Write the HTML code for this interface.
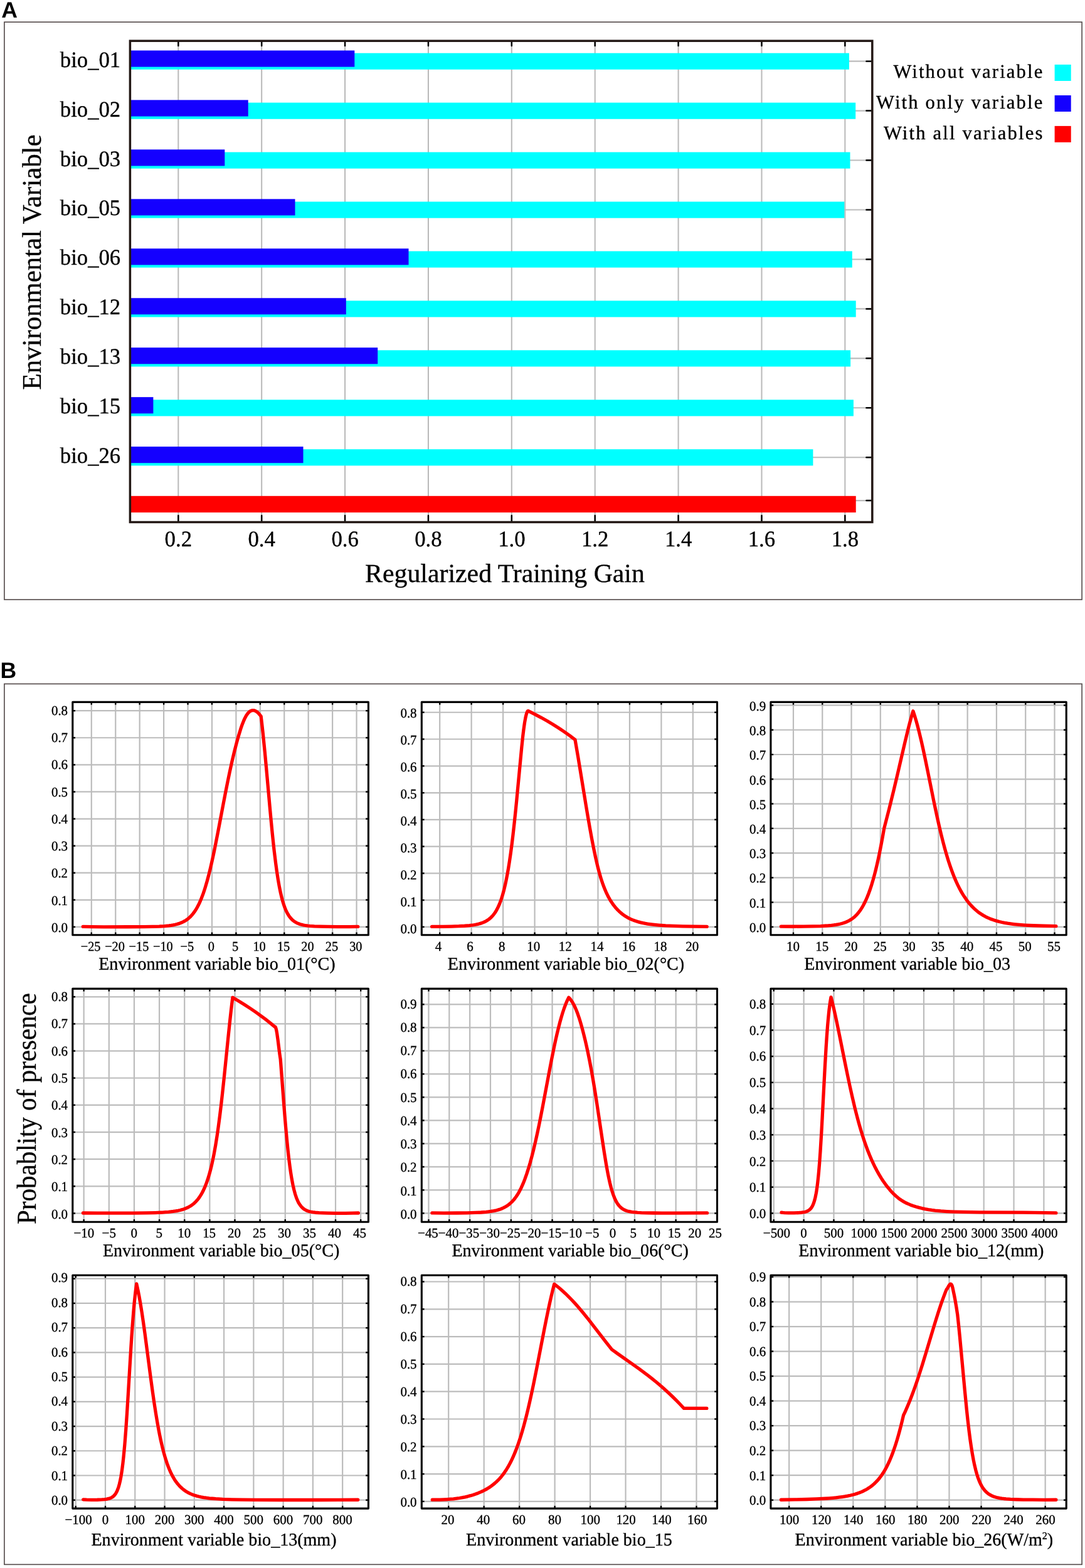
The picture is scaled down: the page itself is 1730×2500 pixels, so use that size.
<!DOCTYPE html>
<html lang="en">
<head>
<meta charset="utf-8">
<title>Figure: Jackknife of regularized training gain and response curves</title>
<style>
html,body{margin:0;padding:0;background:#fff;}
body{width:1730px;height:2500px;overflow:hidden;}
svg{display:block;}
text{font-family:'Liberation Serif', 'DejaVu Serif', serif;fill:#000;text-rendering:geometricPrecision;stroke:#000;stroke-width:0.35px;stroke-linejoin:round;}
text.b{font-family:'Liberation Sans', 'DejaVu Sans', sans-serif;font-weight:bold;stroke:none;}
</style>
</head>
<body>
<svg width="1730" height="2500" viewBox="0 0 1730 2500">
<rect x="0" y="0" width="1730" height="2500" fill="#fff"/>
<text x="2.2" y="28" font-size="35.6" class="b">A</text>
<text x="0.6" y="1081" font-size="35.6" class="b">B</text>
<rect x="6.9" y="35.2" width="1718.2" height="920.8" fill="none" stroke="#514747" stroke-width="1.6"/>
<g id="panelA">
<line x1="284.3" y1="65.2" x2="284.3" y2="832.5" stroke="#bbbbbb" stroke-width="2.1"/>
<line x1="417.18" y1="65.2" x2="417.18" y2="832.5" stroke="#bbbbbb" stroke-width="2.1"/>
<line x1="550.06" y1="65.2" x2="550.06" y2="832.5" stroke="#bbbbbb" stroke-width="2.1"/>
<line x1="682.94" y1="65.2" x2="682.94" y2="832.5" stroke="#bbbbbb" stroke-width="2.1"/>
<line x1="815.82" y1="65.2" x2="815.82" y2="832.5" stroke="#bbbbbb" stroke-width="2.1"/>
<line x1="948.7" y1="65.2" x2="948.7" y2="832.5" stroke="#bbbbbb" stroke-width="2.1"/>
<line x1="1081.58" y1="65.2" x2="1081.58" y2="832.5" stroke="#bbbbbb" stroke-width="2.1"/>
<line x1="1214.46" y1="65.2" x2="1214.46" y2="832.5" stroke="#bbbbbb" stroke-width="2.1"/>
<line x1="1347.34" y1="65.2" x2="1347.34" y2="832.5" stroke="#bbbbbb" stroke-width="2.1"/>
<line x1="207.4" y1="97.65" x2="1390.8" y2="97.65" stroke="#bbbbbb" stroke-width="2.1"/>
<line x1="207.4" y1="176.6" x2="1390.8" y2="176.6" stroke="#bbbbbb" stroke-width="2.1"/>
<line x1="207.4" y1="255.55" x2="1390.8" y2="255.55" stroke="#bbbbbb" stroke-width="2.1"/>
<line x1="207.4" y1="334.5" x2="1390.8" y2="334.5" stroke="#bbbbbb" stroke-width="2.1"/>
<line x1="207.4" y1="413.45" x2="1390.8" y2="413.45" stroke="#bbbbbb" stroke-width="2.1"/>
<line x1="207.4" y1="492.4" x2="1390.8" y2="492.4" stroke="#bbbbbb" stroke-width="2.1"/>
<line x1="207.4" y1="571.35" x2="1390.8" y2="571.35" stroke="#bbbbbb" stroke-width="2.1"/>
<line x1="207.4" y1="650.3" x2="1390.8" y2="650.3" stroke="#bbbbbb" stroke-width="2.1"/>
<line x1="207.4" y1="729.25" x2="1390.8" y2="729.25" stroke="#bbbbbb" stroke-width="2.1"/>
<line x1="207.4" y1="798.1" x2="1390.8" y2="798.1" stroke="#bbbbbb" stroke-width="2.1"/>
<rect x="207.4" y="84.7" width="1146.5" height="26.1" fill="#00ffff"/>
<rect x="207.4" y="80.5" width="357.9" height="26.1" fill="#1400ff"/>
<text transform="translate(192.2 106.6) scale(0.977 1)" font-size="35.5" class="s" text-anchor="end">bio_01</text>
<rect x="207.4" y="163.65" width="1156.8" height="26.1" fill="#00ffff"/>
<rect x="207.4" y="159.45" width="188.3" height="26.1" fill="#1400ff"/>
<text transform="translate(192.2 185.55) scale(0.977 1)" font-size="35.5" class="s" text-anchor="end">bio_02</text>
<rect x="207.4" y="242.6" width="1148.1" height="26.1" fill="#00ffff"/>
<rect x="207.4" y="238.4" width="150.9" height="26.1" fill="#1400ff"/>
<text transform="translate(192.2 264.5) scale(0.977 1)" font-size="35.5" class="s" text-anchor="end">bio_03</text>
<rect x="207.4" y="321.55" width="1138.9" height="26.1" fill="#00ffff"/>
<rect x="207.4" y="317.35" width="263.1" height="26.1" fill="#1400ff"/>
<text transform="translate(192.2 343.45) scale(0.977 1)" font-size="35.5" class="s" text-anchor="end">bio_05</text>
<rect x="207.4" y="400.5" width="1151.4" height="26.1" fill="#00ffff"/>
<rect x="207.4" y="396.3" width="444.1" height="26.1" fill="#1400ff"/>
<text transform="translate(192.2 422.4) scale(0.977 1)" font-size="35.5" class="s" text-anchor="end">bio_06</text>
<rect x="207.4" y="479.45" width="1157.3" height="26.1" fill="#00ffff"/>
<rect x="207.4" y="475.25" width="344.4" height="26.1" fill="#1400ff"/>
<text transform="translate(192.2 501.35) scale(0.977 1)" font-size="35.5" class="s" text-anchor="end">bio_12</text>
<rect x="207.4" y="558.4" width="1148.7" height="26.1" fill="#00ffff"/>
<rect x="207.4" y="554.2" width="394.8" height="26.1" fill="#1400ff"/>
<text transform="translate(192.2 580.3) scale(0.977 1)" font-size="35.5" class="s" text-anchor="end">bio_13</text>
<rect x="207.4" y="637.35" width="1153.5" height="26.1" fill="#00ffff"/>
<rect x="207.4" y="633.15" width="37" height="26.1" fill="#1400ff"/>
<text transform="translate(192.2 659.25) scale(0.977 1)" font-size="35.5" class="s" text-anchor="end">bio_15</text>
<rect x="207.4" y="716.3" width="1089" height="26.1" fill="#00ffff"/>
<rect x="207.4" y="712.1" width="276.1" height="26.1" fill="#1400ff"/>
<text transform="translate(192.2 738.2) scale(0.977 1)" font-size="35.5" class="s" text-anchor="end">bio_26</text>
<rect x="207.4" y="790.8" width="1157.3" height="26.3" fill="#ff0000"/>
<line x1="284.3" y1="65.2" x2="284.3" y2="72.95" stroke="#000" stroke-width="2.5" stroke-linecap="round"/>
<line x1="284.3" y1="832.5" x2="284.3" y2="821.95" stroke="#000" stroke-width="2.5" stroke-linecap="round"/>
<text transform="translate(284.3 871) scale(0.977 1)" font-size="35.5" class="s" text-anchor="middle">0.2</text>
<line x1="417.18" y1="65.2" x2="417.18" y2="72.95" stroke="#000" stroke-width="2.5" stroke-linecap="round"/>
<line x1="417.18" y1="832.5" x2="417.18" y2="821.95" stroke="#000" stroke-width="2.5" stroke-linecap="round"/>
<text transform="translate(417.18 871) scale(0.977 1)" font-size="35.5" class="s" text-anchor="middle">0.4</text>
<line x1="550.06" y1="65.2" x2="550.06" y2="72.95" stroke="#000" stroke-width="2.5" stroke-linecap="round"/>
<line x1="550.06" y1="832.5" x2="550.06" y2="821.95" stroke="#000" stroke-width="2.5" stroke-linecap="round"/>
<text transform="translate(550.06 871) scale(0.977 1)" font-size="35.5" class="s" text-anchor="middle">0.6</text>
<line x1="682.94" y1="65.2" x2="682.94" y2="72.95" stroke="#000" stroke-width="2.5" stroke-linecap="round"/>
<line x1="682.94" y1="832.5" x2="682.94" y2="821.95" stroke="#000" stroke-width="2.5" stroke-linecap="round"/>
<text transform="translate(682.94 871) scale(0.977 1)" font-size="35.5" class="s" text-anchor="middle">0.8</text>
<line x1="815.82" y1="65.2" x2="815.82" y2="72.95" stroke="#000" stroke-width="2.5" stroke-linecap="round"/>
<line x1="815.82" y1="832.5" x2="815.82" y2="821.95" stroke="#000" stroke-width="2.5" stroke-linecap="round"/>
<text transform="translate(815.82 871) scale(0.977 1)" font-size="35.5" class="s" text-anchor="middle">1.0</text>
<line x1="948.7" y1="65.2" x2="948.7" y2="72.95" stroke="#000" stroke-width="2.5" stroke-linecap="round"/>
<line x1="948.7" y1="832.5" x2="948.7" y2="821.95" stroke="#000" stroke-width="2.5" stroke-linecap="round"/>
<text transform="translate(948.7 871) scale(0.977 1)" font-size="35.5" class="s" text-anchor="middle">1.2</text>
<line x1="1081.58" y1="65.2" x2="1081.58" y2="72.95" stroke="#000" stroke-width="2.5" stroke-linecap="round"/>
<line x1="1081.58" y1="832.5" x2="1081.58" y2="821.95" stroke="#000" stroke-width="2.5" stroke-linecap="round"/>
<text transform="translate(1081.58 871) scale(0.977 1)" font-size="35.5" class="s" text-anchor="middle">1.4</text>
<line x1="1214.46" y1="65.2" x2="1214.46" y2="72.95" stroke="#000" stroke-width="2.5" stroke-linecap="round"/>
<line x1="1214.46" y1="832.5" x2="1214.46" y2="821.95" stroke="#000" stroke-width="2.5" stroke-linecap="round"/>
<text transform="translate(1214.46 871) scale(0.977 1)" font-size="35.5" class="s" text-anchor="middle">1.6</text>
<line x1="1347.34" y1="65.2" x2="1347.34" y2="72.95" stroke="#000" stroke-width="2.5" stroke-linecap="round"/>
<line x1="1347.34" y1="832.5" x2="1347.34" y2="821.95" stroke="#000" stroke-width="2.5" stroke-linecap="round"/>
<text transform="translate(1347.34 871) scale(0.977 1)" font-size="35.5" class="s" text-anchor="middle">1.8</text>
<line x1="1390.8" y1="97.65" x2="1381.45" y2="97.65" stroke="#000" stroke-width="2.5" stroke-linecap="round"/>
<line x1="1390.8" y1="176.6" x2="1381.45" y2="176.6" stroke="#000" stroke-width="2.5" stroke-linecap="round"/>
<line x1="1390.8" y1="255.55" x2="1381.45" y2="255.55" stroke="#000" stroke-width="2.5" stroke-linecap="round"/>
<line x1="1390.8" y1="334.5" x2="1381.45" y2="334.5" stroke="#000" stroke-width="2.5" stroke-linecap="round"/>
<line x1="1390.8" y1="413.45" x2="1381.45" y2="413.45" stroke="#000" stroke-width="2.5" stroke-linecap="round"/>
<line x1="1390.8" y1="492.4" x2="1381.45" y2="492.4" stroke="#000" stroke-width="2.5" stroke-linecap="round"/>
<line x1="1390.8" y1="571.35" x2="1381.45" y2="571.35" stroke="#000" stroke-width="2.5" stroke-linecap="round"/>
<line x1="1390.8" y1="650.3" x2="1381.45" y2="650.3" stroke="#000" stroke-width="2.5" stroke-linecap="round"/>
<line x1="1390.8" y1="729.25" x2="1381.45" y2="729.25" stroke="#000" stroke-width="2.5" stroke-linecap="round"/>
<line x1="1390.8" y1="798.1" x2="1381.45" y2="798.1" stroke="#000" stroke-width="2.5" stroke-linecap="round"/>
<rect x="207.4" y="65.2" width="1183.4" height="767.3" fill="none" stroke="#231815" stroke-width="3.5"/>
<text x="805" y="928" font-size="41.8" class="s" text-anchor="middle">Regularized Training Gain</text>
<text transform="translate(65 418) rotate(-90)" font-size="42.8" class="s" text-anchor="middle">Environmental Variable</text>
<text x="1664.5" y="123.9" font-size="30.6" class="s" text-anchor="end" letter-spacing="2.18">Without variable</text>
<rect x="1681.6" y="103" width="26.1" height="26" fill="#00ffff"/>
<text x="1664.5" y="172.8" font-size="30.6" class="s" text-anchor="end" letter-spacing="2.18">With only variable</text>
<rect x="1681.6" y="152" width="26.1" height="26" fill="#1400ff"/>
<text x="1664.5" y="221.7" font-size="30.6" class="s" text-anchor="end" letter-spacing="2.18">With all variables</text>
<rect x="1681.6" y="200.9" width="26.1" height="26" fill="#ff0000"/>
</g>
<rect x="6.9" y="1090.4" width="1718.2" height="1404" fill="none" stroke="#514747" stroke-width="1.6"/>
<text transform="translate(56.6 1767.6) rotate(-90) scale(0.94 1)" font-size="43.6" class="s" text-anchor="middle">Probablity of presence</text>
<g id="p1">
<line x1="145.81" y1="1119.4" x2="145.81" y2="1490.75" stroke="#bcbcbc" stroke-width="2.2"/>
<line x1="184.24" y1="1119.4" x2="184.24" y2="1490.75" stroke="#bcbcbc" stroke-width="2.2"/>
<line x1="222.67" y1="1119.4" x2="222.67" y2="1490.75" stroke="#bcbcbc" stroke-width="2.2"/>
<line x1="261.1" y1="1119.4" x2="261.1" y2="1490.75" stroke="#bcbcbc" stroke-width="2.2"/>
<line x1="299.53" y1="1119.4" x2="299.53" y2="1490.75" stroke="#bcbcbc" stroke-width="2.2"/>
<line x1="337.96" y1="1119.4" x2="337.96" y2="1490.75" stroke="#bcbcbc" stroke-width="2.2"/>
<line x1="376.39" y1="1119.4" x2="376.39" y2="1490.75" stroke="#bcbcbc" stroke-width="2.2"/>
<line x1="414.82" y1="1119.4" x2="414.82" y2="1490.75" stroke="#bcbcbc" stroke-width="2.2"/>
<line x1="453.25" y1="1119.4" x2="453.25" y2="1490.75" stroke="#bcbcbc" stroke-width="2.2"/>
<line x1="491.68" y1="1119.4" x2="491.68" y2="1490.75" stroke="#bcbcbc" stroke-width="2.2"/>
<line x1="530.11" y1="1119.4" x2="530.11" y2="1490.75" stroke="#bcbcbc" stroke-width="2.2"/>
<line x1="568.54" y1="1119.4" x2="568.54" y2="1490.75" stroke="#bcbcbc" stroke-width="2.2"/>
<line x1="115.8" y1="1477.9" x2="587.4" y2="1477.9" stroke="#bcbcbc" stroke-width="2.2"/>
<line x1="115.8" y1="1434.81" x2="587.4" y2="1434.81" stroke="#bcbcbc" stroke-width="2.2"/>
<line x1="115.8" y1="1391.72" x2="587.4" y2="1391.72" stroke="#bcbcbc" stroke-width="2.2"/>
<line x1="115.8" y1="1348.63" x2="587.4" y2="1348.63" stroke="#bcbcbc" stroke-width="2.2"/>
<line x1="115.8" y1="1305.54" x2="587.4" y2="1305.54" stroke="#bcbcbc" stroke-width="2.2"/>
<line x1="115.8" y1="1262.45" x2="587.4" y2="1262.45" stroke="#bcbcbc" stroke-width="2.2"/>
<line x1="115.8" y1="1219.36" x2="587.4" y2="1219.36" stroke="#bcbcbc" stroke-width="2.2"/>
<line x1="115.8" y1="1176.27" x2="587.4" y2="1176.27" stroke="#bcbcbc" stroke-width="2.2"/>
<line x1="115.8" y1="1133.18" x2="587.4" y2="1133.18" stroke="#bcbcbc" stroke-width="2.2"/>
<path d="M132.3 1477.38 L145.53 1477.66 L165.98 1477.78 L203.27 1477.77 L229.73 1477.62 L242.96 1477.4 L253.78 1477.04 L262.2 1476.54 L269.42 1475.84 L273.03 1475.35 L276.04 1474.85 L279.04 1474.24 L282.05 1473.51 L285.06 1472.63 L287.46 1471.79 L289.87 1470.82 L292.27 1469.69 L294.68 1468.38 L296.48 1467.26 L298.89 1465.57 L300.69 1464.13 L302.5 1462.53 L304.3 1460.75 L306.11 1458.78 L307.91 1456.6 L309.71 1454.18 L311.52 1451.52 L313.32 1448.59 L314.53 1446.47 L316.33 1443.05 L318.13 1439.31 L319.94 1435.23 L321.14 1432.31 L322.94 1427.63 L324.15 1424.3 L325.95 1418.98 L327.15 1415.21 L330.16 1405.02 L333.17 1393.71 L335.57 1383.89 L337.98 1373.41 L340.39 1362.34 L342.79 1350.74 L347.6 1326.33 L356.02 1281.99 L359.63 1263.29 L363.24 1245.21 L366.25 1230.79 L369.85 1214.41 L373.46 1199.14 L377.07 1185.06 L378.88 1178.48 L380.68 1172.19 L383.69 1162.46 L385.49 1157.17 L386.69 1153.89 L388.5 1149.38 L389.7 1146.66 L390.9 1144.18 L392.11 1141.94 L393.31 1139.96 L394.51 1138.23 L395.71 1136.76 L396.32 1136.11 L397.52 1134.99 L398.72 1134.1 L399.32 1133.74 L400.53 1133.16 L401.73 1132.79 L402.33 1132.68 L403.53 1132.6 L404.74 1132.71 L405.34 1132.83 L406.54 1133.22 L407.74 1133.78 L409.55 1134.94 L410.75 1135.91 L412.55 1137.66 L414.36 1139.74 L416.16 1142.12 L417.37 1152.13 L419.18 1168.35 L422.2 1198.27 L424.61 1224.21 L430.65 1291.46 L432.46 1310.85 L434.27 1329.31 L436.08 1346.62 L437.29 1357.44 L439.71 1377.19 L441.52 1390.33 L443.33 1402.04 L445.14 1412.39 L446.35 1418.58 L447.55 1424.23 L449.36 1431.78 L450.57 1436.23 L451.78 1440.28 L452.99 1443.93 L454.19 1447.24 L455.4 1450.22 L456.61 1452.91 L457.82 1455.33 L459.02 1457.51 L460.23 1459.47 L461.44 1461.24 L462.64 1462.83 L464.46 1464.92 L465.66 1466.14 L467.47 1467.74 L469.28 1469.11 L471.1 1470.28 L472.91 1471.28 L474.72 1472.13 L476.53 1472.87 L478.94 1473.69 L480.75 1474.2 L483.17 1474.78 L485.58 1475.25 L488 1475.65 L491.02 1476.04 L494.03 1476.35 L501.28 1476.87 L509.73 1477.21 L521.8 1477.46 L538.1 1477.58 L556.82 1477.55 L570.7 1477.38" fill="none" stroke="#ff0000" stroke-width="5.3" stroke-linecap="round" stroke-linejoin="round"/>
<line x1="145.81" y1="1119.4" x2="145.81" y2="1123.65" stroke="#000" stroke-width="2.4"/>
<line x1="145.81" y1="1490.75" x2="145.81" y2="1486.5" stroke="#000" stroke-width="2.4"/>
<text transform="translate(144.61 1516) scale(0.94 1)" font-size="21.6" class="s" text-anchor="middle">−25</text>
<line x1="184.24" y1="1119.4" x2="184.24" y2="1123.65" stroke="#000" stroke-width="2.4"/>
<line x1="184.24" y1="1490.75" x2="184.24" y2="1486.5" stroke="#000" stroke-width="2.4"/>
<text transform="translate(183.04 1516) scale(0.94 1)" font-size="21.6" class="s" text-anchor="middle">−20</text>
<line x1="222.67" y1="1119.4" x2="222.67" y2="1123.65" stroke="#000" stroke-width="2.4"/>
<line x1="222.67" y1="1490.75" x2="222.67" y2="1486.5" stroke="#000" stroke-width="2.4"/>
<text transform="translate(221.47 1516) scale(0.94 1)" font-size="21.6" class="s" text-anchor="middle">−15</text>
<line x1="261.1" y1="1119.4" x2="261.1" y2="1123.65" stroke="#000" stroke-width="2.4"/>
<line x1="261.1" y1="1490.75" x2="261.1" y2="1486.5" stroke="#000" stroke-width="2.4"/>
<text transform="translate(259.9 1516) scale(0.94 1)" font-size="21.6" class="s" text-anchor="middle">−10</text>
<line x1="299.53" y1="1119.4" x2="299.53" y2="1123.65" stroke="#000" stroke-width="2.4"/>
<line x1="299.53" y1="1490.75" x2="299.53" y2="1486.5" stroke="#000" stroke-width="2.4"/>
<text transform="translate(298.33 1516) scale(0.94 1)" font-size="21.6" class="s" text-anchor="middle">−5</text>
<line x1="337.96" y1="1119.4" x2="337.96" y2="1123.65" stroke="#000" stroke-width="2.4"/>
<line x1="337.96" y1="1490.75" x2="337.96" y2="1486.5" stroke="#000" stroke-width="2.4"/>
<text transform="translate(336.76 1516) scale(0.94 1)" font-size="21.6" class="s" text-anchor="middle">0</text>
<line x1="376.39" y1="1119.4" x2="376.39" y2="1123.65" stroke="#000" stroke-width="2.4"/>
<line x1="376.39" y1="1490.75" x2="376.39" y2="1486.5" stroke="#000" stroke-width="2.4"/>
<text transform="translate(375.19 1516) scale(0.94 1)" font-size="21.6" class="s" text-anchor="middle">5</text>
<line x1="414.82" y1="1119.4" x2="414.82" y2="1123.65" stroke="#000" stroke-width="2.4"/>
<line x1="414.82" y1="1490.75" x2="414.82" y2="1486.5" stroke="#000" stroke-width="2.4"/>
<text transform="translate(413.62 1516) scale(0.94 1)" font-size="21.6" class="s" text-anchor="middle">10</text>
<line x1="453.25" y1="1119.4" x2="453.25" y2="1123.65" stroke="#000" stroke-width="2.4"/>
<line x1="453.25" y1="1490.75" x2="453.25" y2="1486.5" stroke="#000" stroke-width="2.4"/>
<text transform="translate(452.05 1516) scale(0.94 1)" font-size="21.6" class="s" text-anchor="middle">15</text>
<line x1="491.68" y1="1119.4" x2="491.68" y2="1123.65" stroke="#000" stroke-width="2.4"/>
<line x1="491.68" y1="1490.75" x2="491.68" y2="1486.5" stroke="#000" stroke-width="2.4"/>
<text transform="translate(490.48 1516) scale(0.94 1)" font-size="21.6" class="s" text-anchor="middle">20</text>
<line x1="530.11" y1="1119.4" x2="530.11" y2="1123.65" stroke="#000" stroke-width="2.4"/>
<line x1="530.11" y1="1490.75" x2="530.11" y2="1486.5" stroke="#000" stroke-width="2.4"/>
<text transform="translate(528.91 1516) scale(0.94 1)" font-size="21.6" class="s" text-anchor="middle">25</text>
<line x1="568.54" y1="1119.4" x2="568.54" y2="1123.65" stroke="#000" stroke-width="2.4"/>
<line x1="568.54" y1="1490.75" x2="568.54" y2="1486.5" stroke="#000" stroke-width="2.4"/>
<text transform="translate(567.34 1516) scale(0.94 1)" font-size="21.6" class="s" text-anchor="middle">30</text>
<line x1="115.8" y1="1477.9" x2="120.05" y2="1477.9" stroke="#000" stroke-width="2.4"/>
<line x1="587.4" y1="1477.9" x2="583.15" y2="1477.9" stroke="#000" stroke-width="2.4"/>
<text transform="translate(108.1 1485.8) scale(0.97 1)" font-size="21.6" class="s" text-anchor="end">0.0</text>
<line x1="115.8" y1="1434.81" x2="120.05" y2="1434.81" stroke="#000" stroke-width="2.4"/>
<line x1="587.4" y1="1434.81" x2="583.15" y2="1434.81" stroke="#000" stroke-width="2.4"/>
<text transform="translate(108.1 1442.55) scale(0.97 1)" font-size="21.6" class="s" text-anchor="end">0.1</text>
<line x1="115.8" y1="1391.72" x2="120.05" y2="1391.72" stroke="#000" stroke-width="2.4"/>
<line x1="587.4" y1="1391.72" x2="583.15" y2="1391.72" stroke="#000" stroke-width="2.4"/>
<text transform="translate(108.1 1399.29) scale(0.97 1)" font-size="21.6" class="s" text-anchor="end">0.2</text>
<line x1="115.8" y1="1348.63" x2="120.05" y2="1348.63" stroke="#000" stroke-width="2.4"/>
<line x1="587.4" y1="1348.63" x2="583.15" y2="1348.63" stroke="#000" stroke-width="2.4"/>
<text transform="translate(108.1 1356.04) scale(0.97 1)" font-size="21.6" class="s" text-anchor="end">0.3</text>
<line x1="115.8" y1="1305.54" x2="120.05" y2="1305.54" stroke="#000" stroke-width="2.4"/>
<line x1="587.4" y1="1305.54" x2="583.15" y2="1305.54" stroke="#000" stroke-width="2.4"/>
<text transform="translate(108.1 1312.79) scale(0.97 1)" font-size="21.6" class="s" text-anchor="end">0.4</text>
<line x1="115.8" y1="1262.45" x2="120.05" y2="1262.45" stroke="#000" stroke-width="2.4"/>
<line x1="587.4" y1="1262.45" x2="583.15" y2="1262.45" stroke="#000" stroke-width="2.4"/>
<text transform="translate(108.1 1269.54) scale(0.97 1)" font-size="21.6" class="s" text-anchor="end">0.5</text>
<line x1="115.8" y1="1219.36" x2="120.05" y2="1219.36" stroke="#000" stroke-width="2.4"/>
<line x1="587.4" y1="1219.36" x2="583.15" y2="1219.36" stroke="#000" stroke-width="2.4"/>
<text transform="translate(108.1 1226.29) scale(0.97 1)" font-size="21.6" class="s" text-anchor="end">0.6</text>
<line x1="115.8" y1="1176.27" x2="120.05" y2="1176.27" stroke="#000" stroke-width="2.4"/>
<line x1="587.4" y1="1176.27" x2="583.15" y2="1176.27" stroke="#000" stroke-width="2.4"/>
<text transform="translate(108.1 1183.03) scale(0.97 1)" font-size="21.6" class="s" text-anchor="end">0.7</text>
<line x1="115.8" y1="1133.18" x2="120.05" y2="1133.18" stroke="#000" stroke-width="2.4"/>
<line x1="587.4" y1="1133.18" x2="583.15" y2="1133.18" stroke="#000" stroke-width="2.4"/>
<text transform="translate(108.1 1139.78) scale(0.97 1)" font-size="21.6" class="s" text-anchor="end">0.8</text>
<rect x="115.8" y="1119.4" width="471.6" height="371.35" fill="none" stroke="#000" stroke-width="3.1" stroke-linejoin="round"/>
<text transform="translate(345.9 1546.3) scale(0.981 1)" font-size="28.6" class="s" text-anchor="middle">Environment variable bio_01(°C)</text>
</g>
<g id="p2">
<line x1="701.18" y1="1119.4" x2="701.18" y2="1490.75" stroke="#bcbcbc" stroke-width="2.2"/>
<line x1="751.64" y1="1119.4" x2="751.64" y2="1490.75" stroke="#bcbcbc" stroke-width="2.2"/>
<line x1="802.1" y1="1119.4" x2="802.1" y2="1490.75" stroke="#bcbcbc" stroke-width="2.2"/>
<line x1="852.56" y1="1119.4" x2="852.56" y2="1490.75" stroke="#bcbcbc" stroke-width="2.2"/>
<line x1="903.02" y1="1119.4" x2="903.02" y2="1490.75" stroke="#bcbcbc" stroke-width="2.2"/>
<line x1="953.48" y1="1119.4" x2="953.48" y2="1490.75" stroke="#bcbcbc" stroke-width="2.2"/>
<line x1="1003.94" y1="1119.4" x2="1003.94" y2="1490.75" stroke="#bcbcbc" stroke-width="2.2"/>
<line x1="1054.4" y1="1119.4" x2="1054.4" y2="1490.75" stroke="#bcbcbc" stroke-width="2.2"/>
<line x1="1104.86" y1="1119.4" x2="1104.86" y2="1490.75" stroke="#bcbcbc" stroke-width="2.2"/>
<line x1="672.3" y1="1477.9" x2="1143.5" y2="1477.9" stroke="#bcbcbc" stroke-width="2.2"/>
<line x1="672.3" y1="1435.13" x2="1143.5" y2="1435.13" stroke="#bcbcbc" stroke-width="2.2"/>
<line x1="672.3" y1="1392.36" x2="1143.5" y2="1392.36" stroke="#bcbcbc" stroke-width="2.2"/>
<line x1="672.3" y1="1349.59" x2="1143.5" y2="1349.59" stroke="#bcbcbc" stroke-width="2.2"/>
<line x1="672.3" y1="1306.82" x2="1143.5" y2="1306.82" stroke="#bcbcbc" stroke-width="2.2"/>
<line x1="672.3" y1="1264.05" x2="1143.5" y2="1264.05" stroke="#bcbcbc" stroke-width="2.2"/>
<line x1="672.3" y1="1221.28" x2="1143.5" y2="1221.28" stroke="#bcbcbc" stroke-width="2.2"/>
<line x1="672.3" y1="1178.51" x2="1143.5" y2="1178.51" stroke="#bcbcbc" stroke-width="2.2"/>
<line x1="672.3" y1="1135.74" x2="1143.5" y2="1135.74" stroke="#bcbcbc" stroke-width="2.2"/>
<path d="M688.65 1477.39 L706.16 1477.28 L720.05 1477.06 L731.53 1476.72 L740.58 1476.25 L748.44 1475.59 L752.06 1475.18 L755.08 1474.75 L758.1 1474.24 L761.12 1473.63 L763.53 1473.04 L765.95 1472.36 L768.37 1471.57 L770.78 1470.63 L773.2 1469.53 L775.01 1468.59 L777.42 1467.12 L779.24 1465.86 L781.05 1464.43 L782.86 1462.8 L784.67 1460.96 L786.48 1458.86 L788.3 1456.49 L789.5 1454.73 L791.32 1451.8 L792.52 1449.63 L793.73 1447.27 L794.94 1444.7 L796.15 1441.92 L797.35 1438.89 L798.56 1435.61 L799.77 1432.05 L800.98 1428.2 L802.19 1424.03 L803.39 1419.53 L804.6 1414.67 L805.81 1409.44 L807.02 1403.8 L808.83 1394.55 L810.64 1384.26 L812.45 1372.88 L814.26 1360.35 L816.08 1346.63 L817.89 1331.73 L820.3 1310.1 L822.12 1292.68 L823.93 1274.4 L831.78 1191.64 L833.59 1174.48 L834.8 1164.37 L836.01 1155.53 L836.61 1151.62 L837.82 1144.89 L838.42 1142.07 L839.03 1139.63 L839.63 1137.57 L840.23 1135.9 L840.84 1134.63 L841.44 1133.77 L842.05 1133.33 L852.4 1138.54 L862.75 1144.05 L872.49 1149.55 L881.62 1155 L890.76 1160.77 L899.89 1166.88 L908.42 1172.93 L916.94 1179.32 L921.76 1207.27 L934.41 1284.58 L937.42 1302.52 L940.43 1319.87 L943.44 1336.42 L946.45 1351.98 L949.46 1366.38 L951.87 1376.97 L953.68 1384.32 L954.88 1388.93 L956.09 1393.32 L957.9 1399.47 L959.1 1403.29 L960.91 1408.64 L962.71 1413.57 L964.52 1418.11 L966.33 1422.29 L968.14 1426.15 L969.94 1429.71 L972.35 1434.04 L974.16 1437 L976.57 1440.62 L978.37 1443.11 L980.78 1446.16 L982.59 1448.27 L985 1450.86 L987.41 1453.22 L989.82 1455.37 L992.23 1457.32 L994.64 1459.1 L997.05 1460.73 L1000.06 1462.55 L1002.47 1463.86 L1005.48 1465.33 L1008.49 1466.64 L1011.5 1467.8 L1014.51 1468.83 L1018.13 1469.92 L1021.74 1470.86 L1025.35 1471.69 L1028.97 1472.4 L1032.58 1473.02 L1036.8 1473.65 L1041.01 1474.19 L1045.83 1474.71 L1050.65 1475.14 L1061.49 1475.89 L1074.14 1476.46 L1088.6 1476.88 L1106.06 1477.19 L1127.14 1477.39" fill="none" stroke="#ff0000" stroke-width="5.3" stroke-linecap="round" stroke-linejoin="round"/>
<line x1="701.18" y1="1119.4" x2="701.18" y2="1123.65" stroke="#000" stroke-width="2.4"/>
<line x1="701.18" y1="1490.75" x2="701.18" y2="1486.5" stroke="#000" stroke-width="2.4"/>
<text transform="translate(698.98 1516) scale(0.97 1)" font-size="21.6" class="s" text-anchor="middle">4</text>
<line x1="751.64" y1="1119.4" x2="751.64" y2="1123.65" stroke="#000" stroke-width="2.4"/>
<line x1="751.64" y1="1490.75" x2="751.64" y2="1486.5" stroke="#000" stroke-width="2.4"/>
<text transform="translate(749.56 1516) scale(0.97 1)" font-size="21.6" class="s" text-anchor="middle">6</text>
<line x1="802.1" y1="1119.4" x2="802.1" y2="1123.65" stroke="#000" stroke-width="2.4"/>
<line x1="802.1" y1="1490.75" x2="802.1" y2="1486.5" stroke="#000" stroke-width="2.4"/>
<text transform="translate(800.15 1516) scale(0.97 1)" font-size="21.6" class="s" text-anchor="middle">8</text>
<line x1="852.56" y1="1119.4" x2="852.56" y2="1123.65" stroke="#000" stroke-width="2.4"/>
<line x1="852.56" y1="1490.75" x2="852.56" y2="1486.5" stroke="#000" stroke-width="2.4"/>
<text transform="translate(850.74 1516) scale(0.97 1)" font-size="21.6" class="s" text-anchor="middle">10</text>
<line x1="903.02" y1="1119.4" x2="903.02" y2="1123.65" stroke="#000" stroke-width="2.4"/>
<line x1="903.02" y1="1490.75" x2="903.02" y2="1486.5" stroke="#000" stroke-width="2.4"/>
<text transform="translate(901.32 1516) scale(0.97 1)" font-size="21.6" class="s" text-anchor="middle">12</text>
<line x1="953.48" y1="1119.4" x2="953.48" y2="1123.65" stroke="#000" stroke-width="2.4"/>
<line x1="953.48" y1="1490.75" x2="953.48" y2="1486.5" stroke="#000" stroke-width="2.4"/>
<text transform="translate(951.9 1516) scale(0.97 1)" font-size="21.6" class="s" text-anchor="middle">14</text>
<line x1="1003.94" y1="1119.4" x2="1003.94" y2="1123.65" stroke="#000" stroke-width="2.4"/>
<line x1="1003.94" y1="1490.75" x2="1003.94" y2="1486.5" stroke="#000" stroke-width="2.4"/>
<text transform="translate(1002.49 1516) scale(0.97 1)" font-size="21.6" class="s" text-anchor="middle">16</text>
<line x1="1054.4" y1="1119.4" x2="1054.4" y2="1123.65" stroke="#000" stroke-width="2.4"/>
<line x1="1054.4" y1="1490.75" x2="1054.4" y2="1486.5" stroke="#000" stroke-width="2.4"/>
<text transform="translate(1053.08 1516) scale(0.97 1)" font-size="21.6" class="s" text-anchor="middle">18</text>
<line x1="1104.86" y1="1119.4" x2="1104.86" y2="1123.65" stroke="#000" stroke-width="2.4"/>
<line x1="1104.86" y1="1490.75" x2="1104.86" y2="1486.5" stroke="#000" stroke-width="2.4"/>
<text transform="translate(1103.66 1516) scale(0.97 1)" font-size="21.6" class="s" text-anchor="middle">20</text>
<line x1="672.3" y1="1477.9" x2="676.55" y2="1477.9" stroke="#000" stroke-width="2.4"/>
<line x1="1143.5" y1="1477.9" x2="1139.25" y2="1477.9" stroke="#000" stroke-width="2.4"/>
<text transform="translate(664.6 1487.5) scale(0.97 1)" font-size="21.6" class="s" text-anchor="end">0.0</text>
<line x1="672.3" y1="1435.13" x2="676.55" y2="1435.13" stroke="#000" stroke-width="2.4"/>
<line x1="1143.5" y1="1435.13" x2="1139.25" y2="1435.13" stroke="#000" stroke-width="2.4"/>
<text transform="translate(664.6 1444.61) scale(0.97 1)" font-size="21.6" class="s" text-anchor="end">0.1</text>
<line x1="672.3" y1="1392.36" x2="676.55" y2="1392.36" stroke="#000" stroke-width="2.4"/>
<line x1="1143.5" y1="1392.36" x2="1139.25" y2="1392.36" stroke="#000" stroke-width="2.4"/>
<text transform="translate(664.6 1401.71) scale(0.97 1)" font-size="21.6" class="s" text-anchor="end">0.2</text>
<line x1="672.3" y1="1349.59" x2="676.55" y2="1349.59" stroke="#000" stroke-width="2.4"/>
<line x1="1143.5" y1="1349.59" x2="1139.25" y2="1349.59" stroke="#000" stroke-width="2.4"/>
<text transform="translate(664.6 1358.82) scale(0.97 1)" font-size="21.6" class="s" text-anchor="end">0.3</text>
<line x1="672.3" y1="1306.82" x2="676.55" y2="1306.82" stroke="#000" stroke-width="2.4"/>
<line x1="1143.5" y1="1306.82" x2="1139.25" y2="1306.82" stroke="#000" stroke-width="2.4"/>
<text transform="translate(664.6 1315.92) scale(0.97 1)" font-size="21.6" class="s" text-anchor="end">0.4</text>
<line x1="672.3" y1="1264.05" x2="676.55" y2="1264.05" stroke="#000" stroke-width="2.4"/>
<line x1="1143.5" y1="1264.05" x2="1139.25" y2="1264.05" stroke="#000" stroke-width="2.4"/>
<text transform="translate(664.6 1273.03) scale(0.97 1)" font-size="21.6" class="s" text-anchor="end">0.5</text>
<line x1="672.3" y1="1221.28" x2="676.55" y2="1221.28" stroke="#000" stroke-width="2.4"/>
<line x1="1143.5" y1="1221.28" x2="1139.25" y2="1221.28" stroke="#000" stroke-width="2.4"/>
<text transform="translate(664.6 1230.13) scale(0.97 1)" font-size="21.6" class="s" text-anchor="end">0.6</text>
<line x1="672.3" y1="1178.51" x2="676.55" y2="1178.51" stroke="#000" stroke-width="2.4"/>
<line x1="1143.5" y1="1178.51" x2="1139.25" y2="1178.51" stroke="#000" stroke-width="2.4"/>
<text transform="translate(664.6 1187.23) scale(0.97 1)" font-size="21.6" class="s" text-anchor="end">0.7</text>
<line x1="672.3" y1="1135.74" x2="676.55" y2="1135.74" stroke="#000" stroke-width="2.4"/>
<line x1="1143.5" y1="1135.74" x2="1139.25" y2="1135.74" stroke="#000" stroke-width="2.4"/>
<text transform="translate(664.6 1144.34) scale(0.97 1)" font-size="21.6" class="s" text-anchor="end">0.8</text>
<rect x="672.3" y="1119.4" width="471.2" height="371.35" fill="none" stroke="#000" stroke-width="3.1" stroke-linejoin="round"/>
<text transform="translate(902.5 1546.3) scale(0.981 1)" font-size="28.6" class="s" text-anchor="middle">Environment variable bio_02(°C)</text>
</g>
<g id="p3">
<line x1="1264.96" y1="1119.4" x2="1264.96" y2="1490.75" stroke="#bcbcbc" stroke-width="2.2"/>
<line x1="1311.24" y1="1119.4" x2="1311.24" y2="1490.75" stroke="#bcbcbc" stroke-width="2.2"/>
<line x1="1357.52" y1="1119.4" x2="1357.52" y2="1490.75" stroke="#bcbcbc" stroke-width="2.2"/>
<line x1="1403.8" y1="1119.4" x2="1403.8" y2="1490.75" stroke="#bcbcbc" stroke-width="2.2"/>
<line x1="1450.08" y1="1119.4" x2="1450.08" y2="1490.75" stroke="#bcbcbc" stroke-width="2.2"/>
<line x1="1496.36" y1="1119.4" x2="1496.36" y2="1490.75" stroke="#bcbcbc" stroke-width="2.2"/>
<line x1="1542.64" y1="1119.4" x2="1542.64" y2="1490.75" stroke="#bcbcbc" stroke-width="2.2"/>
<line x1="1588.92" y1="1119.4" x2="1588.92" y2="1490.75" stroke="#bcbcbc" stroke-width="2.2"/>
<line x1="1635.2" y1="1119.4" x2="1635.2" y2="1490.75" stroke="#bcbcbc" stroke-width="2.2"/>
<line x1="1681.48" y1="1119.4" x2="1681.48" y2="1490.75" stroke="#bcbcbc" stroke-width="2.2"/>
<line x1="1228.9" y1="1477.9" x2="1700.2" y2="1477.9" stroke="#bcbcbc" stroke-width="2.2"/>
<line x1="1228.9" y1="1438.63" x2="1700.2" y2="1438.63" stroke="#bcbcbc" stroke-width="2.2"/>
<line x1="1228.9" y1="1399.36" x2="1700.2" y2="1399.36" stroke="#bcbcbc" stroke-width="2.2"/>
<line x1="1228.9" y1="1360.09" x2="1700.2" y2="1360.09" stroke="#bcbcbc" stroke-width="2.2"/>
<line x1="1228.9" y1="1320.82" x2="1700.2" y2="1320.82" stroke="#bcbcbc" stroke-width="2.2"/>
<line x1="1228.9" y1="1281.55" x2="1700.2" y2="1281.55" stroke="#bcbcbc" stroke-width="2.2"/>
<line x1="1228.9" y1="1242.28" x2="1700.2" y2="1242.28" stroke="#bcbcbc" stroke-width="2.2"/>
<line x1="1228.9" y1="1203.01" x2="1700.2" y2="1203.01" stroke="#bcbcbc" stroke-width="2.2"/>
<line x1="1228.9" y1="1163.74" x2="1700.2" y2="1163.74" stroke="#bcbcbc" stroke-width="2.2"/>
<line x1="1228.9" y1="1124.47" x2="1700.2" y2="1124.47" stroke="#bcbcbc" stroke-width="2.2"/>
<path d="M1245.4 1477.2 L1263.52 1477.27 L1281.65 1477.17 L1296.15 1476.94 L1308.23 1476.55 L1317.9 1476.02 L1325.75 1475.33 L1329.38 1474.91 L1333 1474.38 L1336.02 1473.85 L1339.04 1473.22 L1342.06 1472.47 L1344.48 1471.77 L1347.5 1470.73 L1349.92 1469.76 L1352.34 1468.64 L1354.75 1467.36 L1357.17 1465.88 L1358.98 1464.62 L1361.4 1462.74 L1363.21 1461.15 L1365.02 1459.4 L1366.83 1457.46 L1368.65 1455.33 L1370.46 1452.98 L1372.27 1450.41 L1374.08 1447.59 L1375.9 1444.51 L1377.11 1442.3 L1379.52 1437.51 L1381.33 1433.56 L1382.54 1430.75 L1384.96 1424.69 L1387.38 1417.98 L1389.79 1410.6 L1392.21 1402.49 L1394.63 1393.64 L1396.44 1386.48 L1398.25 1378.88 L1400.06 1370.84 L1401.88 1362.34 L1403.69 1353.4 L1405.5 1344.04 L1407.31 1334.27 L1409.73 1320.65 L1417.73 1289.55 L1425.11 1259.64 L1431.27 1233.71 L1442.34 1185.92 L1447.27 1165.43 L1449.73 1155.7 L1451.58 1148.71 L1454.04 1139.88 L1455.88 1133.67 L1458.9 1142.94 L1460.71 1149.01 L1462.52 1155.47 L1465.53 1167.05 L1469.15 1182.18 L1472.16 1195.69 L1475.18 1209.85 L1478.8 1227.44 L1488.44 1275.16 L1491.46 1289.64 L1494.47 1303.66 L1497.49 1317.09 L1500.5 1329.87 L1503.52 1341.92 L1506.53 1353.23 L1510.15 1365.79 L1511.96 1371.66 L1513.77 1377.27 L1515.58 1382.61 L1517.38 1387.7 L1519.19 1392.53 L1521.61 1398.61 L1523.41 1402.9 L1525.22 1406.98 L1527.03 1410.84 L1529.44 1415.68 L1531.25 1419.09 L1533.66 1423.36 L1535.47 1426.36 L1537.89 1430.12 L1540.3 1433.62 L1542.71 1436.87 L1545.12 1439.9 L1548.14 1443.38 L1550.55 1445.94 L1553.56 1448.88 L1555.97 1451.04 L1558.99 1453.52 L1562 1455.76 L1565.02 1457.79 L1568.03 1459.63 L1571.05 1461.29 L1574.67 1463.08 L1578.28 1464.66 L1581.9 1466.06 L1585.52 1467.3 L1589.14 1468.39 L1593.36 1469.51 L1597.58 1470.48 L1601.8 1471.32 L1606.62 1472.15 L1611.45 1472.85 L1616.87 1473.52 L1622.3 1474.08 L1628.33 1474.6 L1634.36 1475.03 L1648.23 1475.74 L1664.51 1476.26 L1683.8 1476.6" fill="none" stroke="#ff0000" stroke-width="5.3" stroke-linecap="round" stroke-linejoin="round"/>
<line x1="1264.96" y1="1119.4" x2="1264.96" y2="1123.65" stroke="#000" stroke-width="2.4"/>
<line x1="1264.96" y1="1490.75" x2="1264.96" y2="1486.5" stroke="#000" stroke-width="2.4"/>
<text transform="translate(1264.56 1516) scale(0.97 1)" font-size="21.6" class="s" text-anchor="middle">10</text>
<line x1="1311.24" y1="1119.4" x2="1311.24" y2="1123.65" stroke="#000" stroke-width="2.4"/>
<line x1="1311.24" y1="1490.75" x2="1311.24" y2="1486.5" stroke="#000" stroke-width="2.4"/>
<text transform="translate(1310.76 1516) scale(0.97 1)" font-size="21.6" class="s" text-anchor="middle">15</text>
<line x1="1357.52" y1="1119.4" x2="1357.52" y2="1123.65" stroke="#000" stroke-width="2.4"/>
<line x1="1357.52" y1="1490.75" x2="1357.52" y2="1486.5" stroke="#000" stroke-width="2.4"/>
<text transform="translate(1356.96 1516) scale(0.97 1)" font-size="21.6" class="s" text-anchor="middle">20</text>
<line x1="1403.8" y1="1119.4" x2="1403.8" y2="1123.65" stroke="#000" stroke-width="2.4"/>
<line x1="1403.8" y1="1490.75" x2="1403.8" y2="1486.5" stroke="#000" stroke-width="2.4"/>
<text transform="translate(1403.17 1516) scale(0.97 1)" font-size="21.6" class="s" text-anchor="middle">25</text>
<line x1="1450.08" y1="1119.4" x2="1450.08" y2="1123.65" stroke="#000" stroke-width="2.4"/>
<line x1="1450.08" y1="1490.75" x2="1450.08" y2="1486.5" stroke="#000" stroke-width="2.4"/>
<text transform="translate(1449.37 1516) scale(0.97 1)" font-size="21.6" class="s" text-anchor="middle">30</text>
<line x1="1496.36" y1="1119.4" x2="1496.36" y2="1123.65" stroke="#000" stroke-width="2.4"/>
<line x1="1496.36" y1="1490.75" x2="1496.36" y2="1486.5" stroke="#000" stroke-width="2.4"/>
<text transform="translate(1495.57 1516) scale(0.97 1)" font-size="21.6" class="s" text-anchor="middle">35</text>
<line x1="1542.64" y1="1119.4" x2="1542.64" y2="1123.65" stroke="#000" stroke-width="2.4"/>
<line x1="1542.64" y1="1490.75" x2="1542.64" y2="1486.5" stroke="#000" stroke-width="2.4"/>
<text transform="translate(1541.77 1516) scale(0.97 1)" font-size="21.6" class="s" text-anchor="middle">40</text>
<line x1="1588.92" y1="1119.4" x2="1588.92" y2="1123.65" stroke="#000" stroke-width="2.4"/>
<line x1="1588.92" y1="1490.75" x2="1588.92" y2="1486.5" stroke="#000" stroke-width="2.4"/>
<text transform="translate(1587.98 1516) scale(0.97 1)" font-size="21.6" class="s" text-anchor="middle">45</text>
<line x1="1635.2" y1="1119.4" x2="1635.2" y2="1123.65" stroke="#000" stroke-width="2.4"/>
<line x1="1635.2" y1="1490.75" x2="1635.2" y2="1486.5" stroke="#000" stroke-width="2.4"/>
<text transform="translate(1634.18 1516) scale(0.97 1)" font-size="21.6" class="s" text-anchor="middle">50</text>
<line x1="1681.48" y1="1119.4" x2="1681.48" y2="1123.65" stroke="#000" stroke-width="2.4"/>
<line x1="1681.48" y1="1490.75" x2="1681.48" y2="1486.5" stroke="#000" stroke-width="2.4"/>
<text transform="translate(1680.38 1516) scale(0.97 1)" font-size="21.6" class="s" text-anchor="middle">55</text>
<line x1="1228.9" y1="1477.9" x2="1233.15" y2="1477.9" stroke="#000" stroke-width="2.4"/>
<line x1="1700.2" y1="1477.9" x2="1695.95" y2="1477.9" stroke="#000" stroke-width="2.4"/>
<text transform="translate(1221.2 1485.8) scale(0.97 1)" font-size="21.6" class="s" text-anchor="end">0.0</text>
<line x1="1228.9" y1="1438.63" x2="1233.15" y2="1438.63" stroke="#000" stroke-width="2.4"/>
<line x1="1700.2" y1="1438.63" x2="1695.95" y2="1438.63" stroke="#000" stroke-width="2.4"/>
<text transform="translate(1221.2 1446.61) scale(0.97 1)" font-size="21.6" class="s" text-anchor="end">0.1</text>
<line x1="1228.9" y1="1399.36" x2="1233.15" y2="1399.36" stroke="#000" stroke-width="2.4"/>
<line x1="1700.2" y1="1399.36" x2="1695.95" y2="1399.36" stroke="#000" stroke-width="2.4"/>
<text transform="translate(1221.2 1407.42) scale(0.97 1)" font-size="21.6" class="s" text-anchor="end">0.2</text>
<line x1="1228.9" y1="1360.09" x2="1233.15" y2="1360.09" stroke="#000" stroke-width="2.4"/>
<line x1="1700.2" y1="1360.09" x2="1695.95" y2="1360.09" stroke="#000" stroke-width="2.4"/>
<text transform="translate(1221.2 1368.22) scale(0.97 1)" font-size="21.6" class="s" text-anchor="end">0.3</text>
<line x1="1228.9" y1="1320.82" x2="1233.15" y2="1320.82" stroke="#000" stroke-width="2.4"/>
<line x1="1700.2" y1="1320.82" x2="1695.95" y2="1320.82" stroke="#000" stroke-width="2.4"/>
<text transform="translate(1221.2 1329.03) scale(0.97 1)" font-size="21.6" class="s" text-anchor="end">0.4</text>
<line x1="1228.9" y1="1281.55" x2="1233.15" y2="1281.55" stroke="#000" stroke-width="2.4"/>
<line x1="1700.2" y1="1281.55" x2="1695.95" y2="1281.55" stroke="#000" stroke-width="2.4"/>
<text transform="translate(1221.2 1289.84) scale(0.97 1)" font-size="21.6" class="s" text-anchor="end">0.5</text>
<line x1="1228.9" y1="1242.28" x2="1233.15" y2="1242.28" stroke="#000" stroke-width="2.4"/>
<line x1="1700.2" y1="1242.28" x2="1695.95" y2="1242.28" stroke="#000" stroke-width="2.4"/>
<text transform="translate(1221.2 1250.65) scale(0.97 1)" font-size="21.6" class="s" text-anchor="end">0.6</text>
<line x1="1228.9" y1="1203.01" x2="1233.15" y2="1203.01" stroke="#000" stroke-width="2.4"/>
<line x1="1700.2" y1="1203.01" x2="1695.95" y2="1203.01" stroke="#000" stroke-width="2.4"/>
<text transform="translate(1221.2 1211.45) scale(0.97 1)" font-size="21.6" class="s" text-anchor="end">0.7</text>
<line x1="1228.9" y1="1163.74" x2="1233.15" y2="1163.74" stroke="#000" stroke-width="2.4"/>
<line x1="1700.2" y1="1163.74" x2="1695.95" y2="1163.74" stroke="#000" stroke-width="2.4"/>
<text transform="translate(1221.2 1172.26) scale(0.97 1)" font-size="21.6" class="s" text-anchor="end">0.8</text>
<line x1="1228.9" y1="1124.47" x2="1233.15" y2="1124.47" stroke="#000" stroke-width="2.4"/>
<line x1="1700.2" y1="1124.47" x2="1695.95" y2="1124.47" stroke="#000" stroke-width="2.4"/>
<text transform="translate(1221.2 1133.07) scale(0.97 1)" font-size="21.6" class="s" text-anchor="end">0.9</text>
<rect x="1228.9" y="1119.4" width="471.3" height="371.35" fill="none" stroke="#000" stroke-width="3.1" stroke-linejoin="round"/>
<text transform="translate(1446.7 1546.3) scale(0.981 1)" font-size="28.6" class="s" text-anchor="middle">Environment variable bio_03</text>
</g>
<g id="p4">
<line x1="133.66" y1="1576.4" x2="133.66" y2="1948.2" stroke="#bcbcbc" stroke-width="2.2"/>
<line x1="173.8" y1="1576.4" x2="173.8" y2="1948.2" stroke="#bcbcbc" stroke-width="2.2"/>
<line x1="213.93" y1="1576.4" x2="213.93" y2="1948.2" stroke="#bcbcbc" stroke-width="2.2"/>
<line x1="254.06" y1="1576.4" x2="254.06" y2="1948.2" stroke="#bcbcbc" stroke-width="2.2"/>
<line x1="294.2" y1="1576.4" x2="294.2" y2="1948.2" stroke="#bcbcbc" stroke-width="2.2"/>
<line x1="334.33" y1="1576.4" x2="334.33" y2="1948.2" stroke="#bcbcbc" stroke-width="2.2"/>
<line x1="374.47" y1="1576.4" x2="374.47" y2="1948.2" stroke="#bcbcbc" stroke-width="2.2"/>
<line x1="414.6" y1="1576.4" x2="414.6" y2="1948.2" stroke="#bcbcbc" stroke-width="2.2"/>
<line x1="454.74" y1="1576.4" x2="454.74" y2="1948.2" stroke="#bcbcbc" stroke-width="2.2"/>
<line x1="494.88" y1="1576.4" x2="494.88" y2="1948.2" stroke="#bcbcbc" stroke-width="2.2"/>
<line x1="535.01" y1="1576.4" x2="535.01" y2="1948.2" stroke="#bcbcbc" stroke-width="2.2"/>
<line x1="575.14" y1="1576.4" x2="575.14" y2="1948.2" stroke="#bcbcbc" stroke-width="2.2"/>
<line x1="115.8" y1="1934.5" x2="587.4" y2="1934.5" stroke="#bcbcbc" stroke-width="2.2"/>
<line x1="115.8" y1="1891.35" x2="587.4" y2="1891.35" stroke="#bcbcbc" stroke-width="2.2"/>
<line x1="115.8" y1="1848.2" x2="587.4" y2="1848.2" stroke="#bcbcbc" stroke-width="2.2"/>
<line x1="115.8" y1="1805.05" x2="587.4" y2="1805.05" stroke="#bcbcbc" stroke-width="2.2"/>
<line x1="115.8" y1="1761.9" x2="587.4" y2="1761.9" stroke="#bcbcbc" stroke-width="2.2"/>
<line x1="115.8" y1="1718.75" x2="587.4" y2="1718.75" stroke="#bcbcbc" stroke-width="2.2"/>
<line x1="115.8" y1="1675.6" x2="587.4" y2="1675.6" stroke="#bcbcbc" stroke-width="2.2"/>
<line x1="115.8" y1="1632.45" x2="587.4" y2="1632.45" stroke="#bcbcbc" stroke-width="2.2"/>
<line x1="115.8" y1="1589.3" x2="587.4" y2="1589.3" stroke="#bcbcbc" stroke-width="2.2"/>
<path d="M132.5 1933.98 L155.38 1934.17 L185.48 1934.21 L213.18 1934.1 L233.65 1933.86 L247.5 1933.53 L258.94 1933.04 L263.76 1932.73 L268.57 1932.35 L272.79 1931.92 L276.4 1931.48 L280.01 1930.93 L283.63 1930.27 L287.24 1929.47 L290.25 1928.67 L293.26 1927.72 L295.67 1926.83 L298.68 1925.54 L301.09 1924.32 L303.5 1922.93 L305.9 1921.33 L308.31 1919.49 L310.12 1917.93 L312.53 1915.57 L314.33 1913.57 L316.14 1911.34 L317.95 1908.87 L320.35 1905.15 L322.16 1902.01 L323.97 1898.52 L325.77 1894.66 L327.58 1890.39 L329.39 1885.67 L331.19 1880.46 L332.4 1876.68 L334.2 1870.52 L335.41 1866.06 L337.21 1858.79 L338.42 1853.53 L340.22 1844.99 L341.43 1838.82 L343.84 1825.28 L346.24 1810.05 L348.05 1797.47 L350.46 1779.14 L352.87 1759.1 L354.67 1743.03 L357.08 1720.46 L363.7 1655.23 L366.11 1632.12 L368.52 1610.31 L370.93 1590.36 L380.02 1595.7 L389.72 1601.7 L398.81 1607.61 L407.3 1613.4 L415.18 1619.04 L423.06 1624.95 L430.94 1631.15 L438.22 1637.16 L438.91 1637.17 L439.59 1638.39 L440.28 1640.68 L440.97 1643.91 L441.66 1647.91 L443.04 1657.7 L445.8 1679.63 L446.49 1684.5 L447.18 1688.72 L452.6 1760.55 L454.41 1783.15 L455.62 1797.4 L457.43 1817.28 L459.24 1835.18 L460.44 1845.95 L462.25 1860.38 L463.46 1868.89 L465.27 1880.06 L467.08 1889.5 L468.89 1897.4 L470.69 1903.97 L472.5 1909.41 L474.31 1913.88 L475.52 1916.4 L476.72 1918.62 L478.53 1921.43 L480.34 1923.72 L481.55 1925.02 L482.76 1926.15 L483.96 1927.13 L485.17 1928 L486.37 1928.75 L488.18 1929.71 L489.39 1930.25 L491.2 1930.95 L493.01 1931.51 L494.82 1931.98 L498.43 1932.69 L502.66 1933.24 L508.08 1933.68 L514.11 1933.96 L521.95 1934.16 L534.62 1934.29 L550.9 1934.3 L562.96 1934.2 L571.4 1933.98" fill="none" stroke="#ff0000" stroke-width="5.3" stroke-linecap="round" stroke-linejoin="round"/>
<line x1="133.66" y1="1576.4" x2="133.66" y2="1580.65" stroke="#000" stroke-width="2.4"/>
<line x1="133.66" y1="1948.2" x2="133.66" y2="1943.95" stroke="#000" stroke-width="2.4"/>
<text transform="translate(133.76 1972.7) scale(0.97 1)" font-size="21.6" class="s" text-anchor="middle">−10</text>
<line x1="173.8" y1="1576.4" x2="173.8" y2="1580.65" stroke="#000" stroke-width="2.4"/>
<line x1="173.8" y1="1948.2" x2="173.8" y2="1943.95" stroke="#000" stroke-width="2.4"/>
<text transform="translate(173.73 1972.7) scale(0.97 1)" font-size="21.6" class="s" text-anchor="middle">−5</text>
<line x1="213.93" y1="1576.4" x2="213.93" y2="1580.65" stroke="#000" stroke-width="2.4"/>
<line x1="213.93" y1="1948.2" x2="213.93" y2="1943.95" stroke="#000" stroke-width="2.4"/>
<text transform="translate(213.7 1972.7) scale(0.97 1)" font-size="21.6" class="s" text-anchor="middle">0</text>
<line x1="254.06" y1="1576.4" x2="254.06" y2="1580.65" stroke="#000" stroke-width="2.4"/>
<line x1="254.06" y1="1948.2" x2="254.06" y2="1943.95" stroke="#000" stroke-width="2.4"/>
<text transform="translate(253.67 1972.7) scale(0.97 1)" font-size="21.6" class="s" text-anchor="middle">5</text>
<line x1="294.2" y1="1576.4" x2="294.2" y2="1580.65" stroke="#000" stroke-width="2.4"/>
<line x1="294.2" y1="1948.2" x2="294.2" y2="1943.95" stroke="#000" stroke-width="2.4"/>
<text transform="translate(293.65 1972.7) scale(0.97 1)" font-size="21.6" class="s" text-anchor="middle">10</text>
<line x1="334.33" y1="1576.4" x2="334.33" y2="1580.65" stroke="#000" stroke-width="2.4"/>
<line x1="334.33" y1="1948.2" x2="334.33" y2="1943.95" stroke="#000" stroke-width="2.4"/>
<text transform="translate(333.62 1972.7) scale(0.97 1)" font-size="21.6" class="s" text-anchor="middle">15</text>
<line x1="374.47" y1="1576.4" x2="374.47" y2="1580.65" stroke="#000" stroke-width="2.4"/>
<line x1="374.47" y1="1948.2" x2="374.47" y2="1943.95" stroke="#000" stroke-width="2.4"/>
<text transform="translate(373.59 1972.7) scale(0.97 1)" font-size="21.6" class="s" text-anchor="middle">20</text>
<line x1="414.6" y1="1576.4" x2="414.6" y2="1580.65" stroke="#000" stroke-width="2.4"/>
<line x1="414.6" y1="1948.2" x2="414.6" y2="1943.95" stroke="#000" stroke-width="2.4"/>
<text transform="translate(413.56 1972.7) scale(0.97 1)" font-size="21.6" class="s" text-anchor="middle">25</text>
<line x1="454.74" y1="1576.4" x2="454.74" y2="1580.65" stroke="#000" stroke-width="2.4"/>
<line x1="454.74" y1="1948.2" x2="454.74" y2="1943.95" stroke="#000" stroke-width="2.4"/>
<text transform="translate(453.53 1972.7) scale(0.97 1)" font-size="21.6" class="s" text-anchor="middle">30</text>
<line x1="494.88" y1="1576.4" x2="494.88" y2="1580.65" stroke="#000" stroke-width="2.4"/>
<line x1="494.88" y1="1948.2" x2="494.88" y2="1943.95" stroke="#000" stroke-width="2.4"/>
<text transform="translate(493.5 1972.7) scale(0.97 1)" font-size="21.6" class="s" text-anchor="middle">35</text>
<line x1="535.01" y1="1576.4" x2="535.01" y2="1580.65" stroke="#000" stroke-width="2.4"/>
<line x1="535.01" y1="1948.2" x2="535.01" y2="1943.95" stroke="#000" stroke-width="2.4"/>
<text transform="translate(533.47 1972.7) scale(0.97 1)" font-size="21.6" class="s" text-anchor="middle">40</text>
<line x1="575.14" y1="1576.4" x2="575.14" y2="1580.65" stroke="#000" stroke-width="2.4"/>
<line x1="575.14" y1="1948.2" x2="575.14" y2="1943.95" stroke="#000" stroke-width="2.4"/>
<text transform="translate(573.44 1972.7) scale(0.97 1)" font-size="21.6" class="s" text-anchor="middle">45</text>
<line x1="115.8" y1="1934.5" x2="120.05" y2="1934.5" stroke="#000" stroke-width="2.4"/>
<line x1="587.4" y1="1934.5" x2="583.15" y2="1934.5" stroke="#000" stroke-width="2.4"/>
<text transform="translate(108.1 1942.75) scale(0.97 1)" font-size="21.6" class="s" text-anchor="end">0.0</text>
<line x1="115.8" y1="1891.35" x2="120.05" y2="1891.35" stroke="#000" stroke-width="2.4"/>
<line x1="587.4" y1="1891.35" x2="583.15" y2="1891.35" stroke="#000" stroke-width="2.4"/>
<text transform="translate(108.1 1899.39) scale(0.97 1)" font-size="21.6" class="s" text-anchor="end">0.1</text>
<line x1="115.8" y1="1848.2" x2="120.05" y2="1848.2" stroke="#000" stroke-width="2.4"/>
<line x1="587.4" y1="1848.2" x2="583.15" y2="1848.2" stroke="#000" stroke-width="2.4"/>
<text transform="translate(108.1 1856.04) scale(0.97 1)" font-size="21.6" class="s" text-anchor="end">0.2</text>
<line x1="115.8" y1="1805.05" x2="120.05" y2="1805.05" stroke="#000" stroke-width="2.4"/>
<line x1="587.4" y1="1805.05" x2="583.15" y2="1805.05" stroke="#000" stroke-width="2.4"/>
<text transform="translate(108.1 1812.68) scale(0.97 1)" font-size="21.6" class="s" text-anchor="end">0.3</text>
<line x1="115.8" y1="1761.9" x2="120.05" y2="1761.9" stroke="#000" stroke-width="2.4"/>
<line x1="587.4" y1="1761.9" x2="583.15" y2="1761.9" stroke="#000" stroke-width="2.4"/>
<text transform="translate(108.1 1769.32) scale(0.97 1)" font-size="21.6" class="s" text-anchor="end">0.4</text>
<line x1="115.8" y1="1718.75" x2="120.05" y2="1718.75" stroke="#000" stroke-width="2.4"/>
<line x1="587.4" y1="1718.75" x2="583.15" y2="1718.75" stroke="#000" stroke-width="2.4"/>
<text transform="translate(108.1 1725.97) scale(0.97 1)" font-size="21.6" class="s" text-anchor="end">0.5</text>
<line x1="115.8" y1="1675.6" x2="120.05" y2="1675.6" stroke="#000" stroke-width="2.4"/>
<line x1="587.4" y1="1675.6" x2="583.15" y2="1675.6" stroke="#000" stroke-width="2.4"/>
<text transform="translate(108.1 1682.61) scale(0.97 1)" font-size="21.6" class="s" text-anchor="end">0.6</text>
<line x1="115.8" y1="1632.45" x2="120.05" y2="1632.45" stroke="#000" stroke-width="2.4"/>
<line x1="587.4" y1="1632.45" x2="583.15" y2="1632.45" stroke="#000" stroke-width="2.4"/>
<text transform="translate(108.1 1639.26) scale(0.97 1)" font-size="21.6" class="s" text-anchor="end">0.7</text>
<line x1="115.8" y1="1589.3" x2="120.05" y2="1589.3" stroke="#000" stroke-width="2.4"/>
<line x1="587.4" y1="1589.3" x2="583.15" y2="1589.3" stroke="#000" stroke-width="2.4"/>
<text transform="translate(108.1 1595.9) scale(0.97 1)" font-size="21.6" class="s" text-anchor="end">0.8</text>
<rect x="115.8" y="1576.4" width="471.6" height="371.8" fill="none" stroke="#000" stroke-width="3.1" stroke-linejoin="round"/>
<text transform="translate(352.6 2003.3) scale(0.981 1)" font-size="28.6" class="s" text-anchor="middle">Environment variable bio_05(°C)</text>
</g>
<g id="p5">
<line x1="683.45" y1="1576.4" x2="683.45" y2="1948.2" stroke="#bcbcbc" stroke-width="2.2"/>
<line x1="716.3" y1="1576.4" x2="716.3" y2="1948.2" stroke="#bcbcbc" stroke-width="2.2"/>
<line x1="749.15" y1="1576.4" x2="749.15" y2="1948.2" stroke="#bcbcbc" stroke-width="2.2"/>
<line x1="782" y1="1576.4" x2="782" y2="1948.2" stroke="#bcbcbc" stroke-width="2.2"/>
<line x1="814.85" y1="1576.4" x2="814.85" y2="1948.2" stroke="#bcbcbc" stroke-width="2.2"/>
<line x1="847.7" y1="1576.4" x2="847.7" y2="1948.2" stroke="#bcbcbc" stroke-width="2.2"/>
<line x1="880.55" y1="1576.4" x2="880.55" y2="1948.2" stroke="#bcbcbc" stroke-width="2.2"/>
<line x1="913.4" y1="1576.4" x2="913.4" y2="1948.2" stroke="#bcbcbc" stroke-width="2.2"/>
<line x1="946.25" y1="1576.4" x2="946.25" y2="1948.2" stroke="#bcbcbc" stroke-width="2.2"/>
<line x1="979.1" y1="1576.4" x2="979.1" y2="1948.2" stroke="#bcbcbc" stroke-width="2.2"/>
<line x1="1011.95" y1="1576.4" x2="1011.95" y2="1948.2" stroke="#bcbcbc" stroke-width="2.2"/>
<line x1="1044.8" y1="1576.4" x2="1044.8" y2="1948.2" stroke="#bcbcbc" stroke-width="2.2"/>
<line x1="1077.65" y1="1576.4" x2="1077.65" y2="1948.2" stroke="#bcbcbc" stroke-width="2.2"/>
<line x1="1110.5" y1="1576.4" x2="1110.5" y2="1948.2" stroke="#bcbcbc" stroke-width="2.2"/>
<line x1="1143.35" y1="1576.4" x2="1143.35" y2="1948.2" stroke="#bcbcbc" stroke-width="2.2"/>
<line x1="672.3" y1="1934.4" x2="1143.5" y2="1934.4" stroke="#bcbcbc" stroke-width="2.2"/>
<line x1="672.3" y1="1897.4" x2="1143.5" y2="1897.4" stroke="#bcbcbc" stroke-width="2.2"/>
<line x1="672.3" y1="1860.4" x2="1143.5" y2="1860.4" stroke="#bcbcbc" stroke-width="2.2"/>
<line x1="672.3" y1="1823.4" x2="1143.5" y2="1823.4" stroke="#bcbcbc" stroke-width="2.2"/>
<line x1="672.3" y1="1786.4" x2="1143.5" y2="1786.4" stroke="#bcbcbc" stroke-width="2.2"/>
<line x1="672.3" y1="1749.4" x2="1143.5" y2="1749.4" stroke="#bcbcbc" stroke-width="2.2"/>
<line x1="672.3" y1="1712.4" x2="1143.5" y2="1712.4" stroke="#bcbcbc" stroke-width="2.2"/>
<line x1="672.3" y1="1675.4" x2="1143.5" y2="1675.4" stroke="#bcbcbc" stroke-width="2.2"/>
<line x1="672.3" y1="1638.4" x2="1143.5" y2="1638.4" stroke="#bcbcbc" stroke-width="2.2"/>
<line x1="672.3" y1="1601.4" x2="1143.5" y2="1601.4" stroke="#bcbcbc" stroke-width="2.2"/>
<path d="M689 1933.96 L707.7 1934.05 L728.22 1933.99 L744.5 1933.8 L757.17 1933.47 L766.83 1933.01 L775.27 1932.35 L778.89 1931.96 L782.51 1931.47 L785.53 1930.98 L788.55 1930.4 L791.56 1929.71 L794.58 1928.88 L797.6 1927.9 L800.01 1926.98 L802.42 1925.93 L804.84 1924.71 L807.25 1923.32 L809.06 1922.15 L811.47 1920.38 L813.28 1918.9 L815.7 1916.67 L817.51 1914.81 L819.32 1912.75 L821.13 1910.49 L822.94 1908.02 L824.75 1905.3 L826.56 1902.34 L827.76 1900.22 L829.57 1896.81 L830.78 1894.37 L832.59 1890.46 L833.8 1887.68 L835.61 1883.25 L836.81 1880.11 L839.83 1871.61 L842.24 1864.14 L845.26 1853.96 L848.27 1842.83 L850.69 1833.27 L853.7 1820.5 L856.72 1806.88 L859.74 1792.48 L862.15 1780.47 L865.17 1764.97 L875.42 1710.44 L879.65 1688.49 L883.87 1667.7 L886.28 1656.53 L888.09 1648.57 L890.51 1638.53 L892.92 1629.22 L895.33 1620.66 L897.14 1614.75 L899.56 1607.53 L901.97 1601.08 L904.38 1595.36 L906.8 1590.33 L908.61 1592.26 L910.41 1594.54 L912.22 1597.19 L913.43 1599.17 L915.24 1602.48 L917.05 1606.23 L918.86 1610.43 L920.06 1613.5 L921.27 1616.77 L923.08 1622.06 L924.89 1627.79 L926.7 1633.95 L928.5 1640.47 L930.31 1647.35 L933.33 1659.65 L935.14 1667.54 L936.95 1675.85 L939.96 1690.61 L942.98 1706.57 L945.99 1723.72 L949.01 1742.01 L952.02 1761.29 L960.46 1817.93 L963.48 1837.66 L966.49 1856.05 L968.3 1866.14 L969.51 1872.41 L971.32 1881.07 L972.52 1886.34 L974.33 1893.48 L976.14 1899.74 L977.95 1905.16 L979.76 1909.82 L981.57 1913.78 L982.78 1916.08 L983.98 1918.12 L985.19 1919.94 L986.39 1921.56 L987.6 1922.99 L988.81 1924.25 L990.01 1925.37 L991.22 1926.36 L992.42 1927.22 L994.23 1928.34 L995.44 1928.97 L997.25 1929.78 L999.06 1930.45 L1000.87 1931 L1002.68 1931.46 L1005.09 1931.96 L1007.5 1932.35 L1010.51 1932.73 L1015.94 1933.21 L1022.58 1933.56 L1031.02 1933.81 L1041.87 1933.98 L1055.74 1934.07 L1073.83 1934.1 L1127.5 1933.96" fill="none" stroke="#ff0000" stroke-width="5.3" stroke-linecap="round" stroke-linejoin="round"/>
<line x1="683.45" y1="1576.4" x2="683.45" y2="1580.65" stroke="#000" stroke-width="2.4"/>
<line x1="683.45" y1="1948.2" x2="683.45" y2="1943.95" stroke="#000" stroke-width="2.4"/>
<text transform="translate(682.45 1972.7) scale(0.97 1)" font-size="21.6" class="s" text-anchor="middle">−45</text>
<line x1="716.3" y1="1576.4" x2="716.3" y2="1580.65" stroke="#000" stroke-width="2.4"/>
<line x1="716.3" y1="1948.2" x2="716.3" y2="1943.95" stroke="#000" stroke-width="2.4"/>
<text transform="translate(715.17 1972.7) scale(0.97 1)" font-size="21.6" class="s" text-anchor="middle">−40</text>
<line x1="749.15" y1="1576.4" x2="749.15" y2="1580.65" stroke="#000" stroke-width="2.4"/>
<line x1="749.15" y1="1948.2" x2="749.15" y2="1943.95" stroke="#000" stroke-width="2.4"/>
<text transform="translate(747.89 1972.7) scale(0.97 1)" font-size="21.6" class="s" text-anchor="middle">−35</text>
<line x1="782" y1="1576.4" x2="782" y2="1580.65" stroke="#000" stroke-width="2.4"/>
<line x1="782" y1="1948.2" x2="782" y2="1943.95" stroke="#000" stroke-width="2.4"/>
<text transform="translate(780.61 1972.7) scale(0.97 1)" font-size="21.6" class="s" text-anchor="middle">−30</text>
<line x1="814.85" y1="1576.4" x2="814.85" y2="1580.65" stroke="#000" stroke-width="2.4"/>
<line x1="814.85" y1="1948.2" x2="814.85" y2="1943.95" stroke="#000" stroke-width="2.4"/>
<text transform="translate(813.34 1972.7) scale(0.97 1)" font-size="21.6" class="s" text-anchor="middle">−25</text>
<line x1="847.7" y1="1576.4" x2="847.7" y2="1580.65" stroke="#000" stroke-width="2.4"/>
<line x1="847.7" y1="1948.2" x2="847.7" y2="1943.95" stroke="#000" stroke-width="2.4"/>
<text transform="translate(846.06 1972.7) scale(0.97 1)" font-size="21.6" class="s" text-anchor="middle">−20</text>
<line x1="880.55" y1="1576.4" x2="880.55" y2="1580.65" stroke="#000" stroke-width="2.4"/>
<line x1="880.55" y1="1948.2" x2="880.55" y2="1943.95" stroke="#000" stroke-width="2.4"/>
<text transform="translate(878.78 1972.7) scale(0.97 1)" font-size="21.6" class="s" text-anchor="middle">−15</text>
<line x1="913.4" y1="1576.4" x2="913.4" y2="1580.65" stroke="#000" stroke-width="2.4"/>
<line x1="913.4" y1="1948.2" x2="913.4" y2="1943.95" stroke="#000" stroke-width="2.4"/>
<text transform="translate(911.5 1972.7) scale(0.97 1)" font-size="21.6" class="s" text-anchor="middle">−10</text>
<line x1="946.25" y1="1576.4" x2="946.25" y2="1580.65" stroke="#000" stroke-width="2.4"/>
<line x1="946.25" y1="1948.2" x2="946.25" y2="1943.95" stroke="#000" stroke-width="2.4"/>
<text transform="translate(944.22 1972.7) scale(0.97 1)" font-size="21.6" class="s" text-anchor="middle">−5</text>
<line x1="979.1" y1="1576.4" x2="979.1" y2="1580.65" stroke="#000" stroke-width="2.4"/>
<line x1="979.1" y1="1948.2" x2="979.1" y2="1943.95" stroke="#000" stroke-width="2.4"/>
<text transform="translate(976.94 1972.7) scale(0.97 1)" font-size="21.6" class="s" text-anchor="middle">0</text>
<line x1="1011.95" y1="1576.4" x2="1011.95" y2="1580.65" stroke="#000" stroke-width="2.4"/>
<line x1="1011.95" y1="1948.2" x2="1011.95" y2="1943.95" stroke="#000" stroke-width="2.4"/>
<text transform="translate(1009.66 1972.7) scale(0.97 1)" font-size="21.6" class="s" text-anchor="middle">5</text>
<line x1="1044.8" y1="1576.4" x2="1044.8" y2="1580.65" stroke="#000" stroke-width="2.4"/>
<line x1="1044.8" y1="1948.2" x2="1044.8" y2="1943.95" stroke="#000" stroke-width="2.4"/>
<text transform="translate(1042.39 1972.7) scale(0.97 1)" font-size="21.6" class="s" text-anchor="middle">10</text>
<line x1="1077.65" y1="1576.4" x2="1077.65" y2="1580.65" stroke="#000" stroke-width="2.4"/>
<line x1="1077.65" y1="1948.2" x2="1077.65" y2="1943.95" stroke="#000" stroke-width="2.4"/>
<text transform="translate(1075.11 1972.7) scale(0.97 1)" font-size="21.6" class="s" text-anchor="middle">15</text>
<line x1="1110.5" y1="1576.4" x2="1110.5" y2="1580.65" stroke="#000" stroke-width="2.4"/>
<line x1="1110.5" y1="1948.2" x2="1110.5" y2="1943.95" stroke="#000" stroke-width="2.4"/>
<text transform="translate(1107.83 1972.7) scale(0.97 1)" font-size="21.6" class="s" text-anchor="middle">20</text>
<line x1="1143.35" y1="1576.4" x2="1143.35" y2="1580.65" stroke="#000" stroke-width="2.4"/>
<line x1="1143.35" y1="1948.2" x2="1143.35" y2="1943.95" stroke="#000" stroke-width="2.4"/>
<text transform="translate(1140.55 1972.7) scale(0.97 1)" font-size="21.6" class="s" text-anchor="middle">25</text>
<line x1="672.3" y1="1934.4" x2="676.55" y2="1934.4" stroke="#000" stroke-width="2.4"/>
<line x1="1143.5" y1="1934.4" x2="1139.25" y2="1934.4" stroke="#000" stroke-width="2.4"/>
<text transform="translate(664.6 1942.8) scale(0.97 1)" font-size="21.6" class="s" text-anchor="end">0.0</text>
<line x1="672.3" y1="1897.4" x2="676.55" y2="1897.4" stroke="#000" stroke-width="2.4"/>
<line x1="1143.5" y1="1897.4" x2="1139.25" y2="1897.4" stroke="#000" stroke-width="2.4"/>
<text transform="translate(664.6 1905.58) scale(0.97 1)" font-size="21.6" class="s" text-anchor="end">0.1</text>
<line x1="672.3" y1="1860.4" x2="676.55" y2="1860.4" stroke="#000" stroke-width="2.4"/>
<line x1="1143.5" y1="1860.4" x2="1139.25" y2="1860.4" stroke="#000" stroke-width="2.4"/>
<text transform="translate(664.6 1868.36) scale(0.97 1)" font-size="21.6" class="s" text-anchor="end">0.2</text>
<line x1="672.3" y1="1823.4" x2="676.55" y2="1823.4" stroke="#000" stroke-width="2.4"/>
<line x1="1143.5" y1="1823.4" x2="1139.25" y2="1823.4" stroke="#000" stroke-width="2.4"/>
<text transform="translate(664.6 1831.13) scale(0.97 1)" font-size="21.6" class="s" text-anchor="end">0.3</text>
<line x1="672.3" y1="1786.4" x2="676.55" y2="1786.4" stroke="#000" stroke-width="2.4"/>
<line x1="1143.5" y1="1786.4" x2="1139.25" y2="1786.4" stroke="#000" stroke-width="2.4"/>
<text transform="translate(664.6 1793.91) scale(0.97 1)" font-size="21.6" class="s" text-anchor="end">0.4</text>
<line x1="672.3" y1="1749.4" x2="676.55" y2="1749.4" stroke="#000" stroke-width="2.4"/>
<line x1="1143.5" y1="1749.4" x2="1139.25" y2="1749.4" stroke="#000" stroke-width="2.4"/>
<text transform="translate(664.6 1756.69) scale(0.97 1)" font-size="21.6" class="s" text-anchor="end">0.5</text>
<line x1="672.3" y1="1712.4" x2="676.55" y2="1712.4" stroke="#000" stroke-width="2.4"/>
<line x1="1143.5" y1="1712.4" x2="1139.25" y2="1712.4" stroke="#000" stroke-width="2.4"/>
<text transform="translate(664.6 1719.47) scale(0.97 1)" font-size="21.6" class="s" text-anchor="end">0.6</text>
<line x1="672.3" y1="1675.4" x2="676.55" y2="1675.4" stroke="#000" stroke-width="2.4"/>
<line x1="1143.5" y1="1675.4" x2="1139.25" y2="1675.4" stroke="#000" stroke-width="2.4"/>
<text transform="translate(664.6 1682.24) scale(0.97 1)" font-size="21.6" class="s" text-anchor="end">0.7</text>
<line x1="672.3" y1="1638.4" x2="676.55" y2="1638.4" stroke="#000" stroke-width="2.4"/>
<line x1="1143.5" y1="1638.4" x2="1139.25" y2="1638.4" stroke="#000" stroke-width="2.4"/>
<text transform="translate(664.6 1645.02) scale(0.97 1)" font-size="21.6" class="s" text-anchor="end">0.8</text>
<line x1="672.3" y1="1601.4" x2="676.55" y2="1601.4" stroke="#000" stroke-width="2.4"/>
<line x1="1143.5" y1="1601.4" x2="1139.25" y2="1601.4" stroke="#000" stroke-width="2.4"/>
<text transform="translate(664.6 1607.8) scale(0.97 1)" font-size="21.6" class="s" text-anchor="end">0.9</text>
<rect x="672.3" y="1576.4" width="471.2" height="371.8" fill="none" stroke="#000" stroke-width="3.1" stroke-linejoin="round"/>
<text transform="translate(909.1 2003.3) scale(0.981 1)" font-size="28.6" class="s" text-anchor="middle">Environment variable bio_06(°C)</text>
</g>
<g id="p6">
<line x1="1233.75" y1="1576.4" x2="1233.75" y2="1948.2" stroke="#bcbcbc" stroke-width="2.2"/>
<line x1="1281.6" y1="1576.4" x2="1281.6" y2="1948.2" stroke="#bcbcbc" stroke-width="2.2"/>
<line x1="1329.44" y1="1576.4" x2="1329.44" y2="1948.2" stroke="#bcbcbc" stroke-width="2.2"/>
<line x1="1377.29" y1="1576.4" x2="1377.29" y2="1948.2" stroke="#bcbcbc" stroke-width="2.2"/>
<line x1="1425.13" y1="1576.4" x2="1425.13" y2="1948.2" stroke="#bcbcbc" stroke-width="2.2"/>
<line x1="1472.98" y1="1576.4" x2="1472.98" y2="1948.2" stroke="#bcbcbc" stroke-width="2.2"/>
<line x1="1520.82" y1="1576.4" x2="1520.82" y2="1948.2" stroke="#bcbcbc" stroke-width="2.2"/>
<line x1="1568.67" y1="1576.4" x2="1568.67" y2="1948.2" stroke="#bcbcbc" stroke-width="2.2"/>
<line x1="1616.51" y1="1576.4" x2="1616.51" y2="1948.2" stroke="#bcbcbc" stroke-width="2.2"/>
<line x1="1664.36" y1="1576.4" x2="1664.36" y2="1948.2" stroke="#bcbcbc" stroke-width="2.2"/>
<line x1="1228.9" y1="1934.4" x2="1700.2" y2="1934.4" stroke="#bcbcbc" stroke-width="2.2"/>
<line x1="1228.9" y1="1892.7" x2="1700.2" y2="1892.7" stroke="#bcbcbc" stroke-width="2.2"/>
<line x1="1228.9" y1="1851" x2="1700.2" y2="1851" stroke="#bcbcbc" stroke-width="2.2"/>
<line x1="1228.9" y1="1809.3" x2="1700.2" y2="1809.3" stroke="#bcbcbc" stroke-width="2.2"/>
<line x1="1228.9" y1="1767.6" x2="1700.2" y2="1767.6" stroke="#bcbcbc" stroke-width="2.2"/>
<line x1="1228.9" y1="1725.9" x2="1700.2" y2="1725.9" stroke="#bcbcbc" stroke-width="2.2"/>
<line x1="1228.9" y1="1684.2" x2="1700.2" y2="1684.2" stroke="#bcbcbc" stroke-width="2.2"/>
<line x1="1228.9" y1="1642.5" x2="1700.2" y2="1642.5" stroke="#bcbcbc" stroke-width="2.2"/>
<line x1="1228.9" y1="1600.8" x2="1700.2" y2="1600.8" stroke="#bcbcbc" stroke-width="2.2"/>
<path d="M1245.92 1933.19 L1248.35 1933.46 L1250.79 1933.63 L1257.48 1933.86 L1266 1933.86 L1273.31 1933.62 L1278.17 1933.24 L1281.83 1932.7 L1283.65 1932.29 L1284.87 1931.94 L1286.09 1931.52 L1287.3 1931.01 L1288.52 1930.39 L1289.74 1929.61 L1290.96 1928.66 L1291.56 1928.11 L1292.78 1926.8 L1293.39 1926.03 L1294.61 1924.21 L1295.82 1921.95 L1296.43 1920.62 L1297.65 1917.47 L1298.87 1913.53 L1300.08 1908.63 L1301.3 1902.52 L1301.91 1898.94 L1303.13 1890.53 L1303.74 1885.63 L1304.95 1874.25 L1305.56 1867.72 L1306.78 1852.88 L1308 1835.63 L1309.82 1805.54 L1311.04 1783.24 L1315.3 1701.56 L1317.13 1670.25 L1318.34 1651.91 L1319.56 1635.82 L1320.17 1628.64 L1321.39 1615.94 L1321.99 1610.39 L1323.21 1600.8 L1323.82 1596.71 L1325.04 1589.82 L1326.84 1597.05 L1329.25 1607.21 L1331.66 1617.91 L1334.07 1629.06 L1338.28 1649.42 L1347.31 1694.39 L1350.92 1712.07 L1355.14 1731.97 L1358.75 1748.2 L1362.96 1766.02 L1365.37 1775.62 L1367.17 1782.53 L1368.98 1789.19 L1371.39 1797.69 L1373.19 1803.78 L1375.6 1811.53 L1378.01 1818.87 L1381.02 1827.49 L1383.43 1833.96 L1386.44 1841.54 L1389.45 1848.61 L1392.46 1855.2 L1395.47 1861.34 L1398.48 1867.06 L1401.49 1872.4 L1405.1 1878.35 L1408.11 1882.94 L1411.72 1888.07 L1415.33 1892.79 L1418.94 1897.15 L1422.55 1901.16 L1426.17 1904.8 L1429.18 1907.55 L1432.19 1910.05 L1435.19 1912.31 L1438.2 1914.33 L1441.21 1916.13 L1444.22 1917.73 L1447.84 1919.41 L1451.45 1920.9 L1455.66 1922.43 L1460.48 1923.97 L1465.29 1925.34 L1470.11 1926.55 L1474.92 1927.6 L1480.34 1928.6 L1485.76 1929.43 L1491.18 1930.11 L1500.21 1930.97 L1509.84 1931.59 L1521.88 1932.1 L1535.72 1932.46 L1561.6 1932.79 L1632.03 1933.22 L1683.8 1933.9" fill="none" stroke="#ff0000" stroke-width="5.3" stroke-linecap="round" stroke-linejoin="round"/>
<line x1="1233.75" y1="1576.4" x2="1233.75" y2="1580.65" stroke="#000" stroke-width="2.4"/>
<line x1="1233.75" y1="1948.2" x2="1233.75" y2="1943.95" stroke="#000" stroke-width="2.4"/>
<text transform="translate(1238.45 1972.7) scale(0.97 1)" font-size="21.6" class="s" text-anchor="middle">−500</text>
<line x1="1281.6" y1="1576.4" x2="1281.6" y2="1580.65" stroke="#000" stroke-width="2.4"/>
<line x1="1281.6" y1="1948.2" x2="1281.6" y2="1943.95" stroke="#000" stroke-width="2.4"/>
<text transform="translate(1281.54 1972.7) scale(0.97 1)" font-size="21.6" class="s" text-anchor="middle">0</text>
<line x1="1329.44" y1="1576.4" x2="1329.44" y2="1580.65" stroke="#000" stroke-width="2.4"/>
<line x1="1329.44" y1="1948.2" x2="1329.44" y2="1943.95" stroke="#000" stroke-width="2.4"/>
<text transform="translate(1329.53 1972.7) scale(0.97 1)" font-size="21.6" class="s" text-anchor="middle">500</text>
<line x1="1377.29" y1="1576.4" x2="1377.29" y2="1580.65" stroke="#000" stroke-width="2.4"/>
<line x1="1377.29" y1="1948.2" x2="1377.29" y2="1943.95" stroke="#000" stroke-width="2.4"/>
<text transform="translate(1377.52 1972.7) scale(0.97 1)" font-size="21.6" class="s" text-anchor="middle">1000</text>
<line x1="1425.13" y1="1576.4" x2="1425.13" y2="1580.65" stroke="#000" stroke-width="2.4"/>
<line x1="1425.13" y1="1948.2" x2="1425.13" y2="1943.95" stroke="#000" stroke-width="2.4"/>
<text transform="translate(1425.51 1972.7) scale(0.97 1)" font-size="21.6" class="s" text-anchor="middle">1500</text>
<line x1="1472.98" y1="1576.4" x2="1472.98" y2="1580.65" stroke="#000" stroke-width="2.4"/>
<line x1="1472.98" y1="1948.2" x2="1472.98" y2="1943.95" stroke="#000" stroke-width="2.4"/>
<text transform="translate(1473.5 1972.7) scale(0.97 1)" font-size="21.6" class="s" text-anchor="middle">2000</text>
<line x1="1520.82" y1="1576.4" x2="1520.82" y2="1580.65" stroke="#000" stroke-width="2.4"/>
<line x1="1520.82" y1="1948.2" x2="1520.82" y2="1943.95" stroke="#000" stroke-width="2.4"/>
<text transform="translate(1521.49 1972.7) scale(0.97 1)" font-size="21.6" class="s" text-anchor="middle">2500</text>
<line x1="1568.67" y1="1576.4" x2="1568.67" y2="1580.65" stroke="#000" stroke-width="2.4"/>
<line x1="1568.67" y1="1948.2" x2="1568.67" y2="1943.95" stroke="#000" stroke-width="2.4"/>
<text transform="translate(1569.48 1972.7) scale(0.97 1)" font-size="21.6" class="s" text-anchor="middle">3000</text>
<line x1="1616.51" y1="1576.4" x2="1616.51" y2="1580.65" stroke="#000" stroke-width="2.4"/>
<line x1="1616.51" y1="1948.2" x2="1616.51" y2="1943.95" stroke="#000" stroke-width="2.4"/>
<text transform="translate(1617.47 1972.7) scale(0.97 1)" font-size="21.6" class="s" text-anchor="middle">3500</text>
<line x1="1664.36" y1="1576.4" x2="1664.36" y2="1580.65" stroke="#000" stroke-width="2.4"/>
<line x1="1664.36" y1="1948.2" x2="1664.36" y2="1943.95" stroke="#000" stroke-width="2.4"/>
<text transform="translate(1665.46 1972.7) scale(0.97 1)" font-size="21.6" class="s" text-anchor="middle">4000</text>
<line x1="1228.9" y1="1934.4" x2="1233.15" y2="1934.4" stroke="#000" stroke-width="2.4"/>
<line x1="1700.2" y1="1934.4" x2="1695.95" y2="1934.4" stroke="#000" stroke-width="2.4"/>
<text transform="translate(1221.2 1942.15) scale(0.97 1)" font-size="21.6" class="s" text-anchor="end">0.0</text>
<line x1="1228.9" y1="1892.7" x2="1233.15" y2="1892.7" stroke="#000" stroke-width="2.4"/>
<line x1="1700.2" y1="1892.7" x2="1695.95" y2="1892.7" stroke="#000" stroke-width="2.4"/>
<text transform="translate(1221.2 1900.34) scale(0.97 1)" font-size="21.6" class="s" text-anchor="end">0.1</text>
<line x1="1228.9" y1="1851" x2="1233.15" y2="1851" stroke="#000" stroke-width="2.4"/>
<line x1="1700.2" y1="1851" x2="1695.95" y2="1851" stroke="#000" stroke-width="2.4"/>
<text transform="translate(1221.2 1858.54) scale(0.97 1)" font-size="21.6" class="s" text-anchor="end">0.2</text>
<line x1="1228.9" y1="1809.3" x2="1233.15" y2="1809.3" stroke="#000" stroke-width="2.4"/>
<line x1="1700.2" y1="1809.3" x2="1695.95" y2="1809.3" stroke="#000" stroke-width="2.4"/>
<text transform="translate(1221.2 1816.73) scale(0.97 1)" font-size="21.6" class="s" text-anchor="end">0.3</text>
<line x1="1228.9" y1="1767.6" x2="1233.15" y2="1767.6" stroke="#000" stroke-width="2.4"/>
<line x1="1700.2" y1="1767.6" x2="1695.95" y2="1767.6" stroke="#000" stroke-width="2.4"/>
<text transform="translate(1221.2 1774.92) scale(0.97 1)" font-size="21.6" class="s" text-anchor="end">0.4</text>
<line x1="1228.9" y1="1725.9" x2="1233.15" y2="1725.9" stroke="#000" stroke-width="2.4"/>
<line x1="1700.2" y1="1725.9" x2="1695.95" y2="1725.9" stroke="#000" stroke-width="2.4"/>
<text transform="translate(1221.2 1733.12) scale(0.97 1)" font-size="21.6" class="s" text-anchor="end">0.5</text>
<line x1="1228.9" y1="1684.2" x2="1233.15" y2="1684.2" stroke="#000" stroke-width="2.4"/>
<line x1="1700.2" y1="1684.2" x2="1695.95" y2="1684.2" stroke="#000" stroke-width="2.4"/>
<text transform="translate(1221.2 1691.31) scale(0.97 1)" font-size="21.6" class="s" text-anchor="end">0.6</text>
<line x1="1228.9" y1="1642.5" x2="1233.15" y2="1642.5" stroke="#000" stroke-width="2.4"/>
<line x1="1700.2" y1="1642.5" x2="1695.95" y2="1642.5" stroke="#000" stroke-width="2.4"/>
<text transform="translate(1221.2 1649.51) scale(0.97 1)" font-size="21.6" class="s" text-anchor="end">0.7</text>
<line x1="1228.9" y1="1600.8" x2="1233.15" y2="1600.8" stroke="#000" stroke-width="2.4"/>
<line x1="1700.2" y1="1600.8" x2="1695.95" y2="1600.8" stroke="#000" stroke-width="2.4"/>
<text transform="translate(1221.2 1607.7) scale(0.97 1)" font-size="21.6" class="s" text-anchor="end">0.8</text>
<rect x="1228.9" y="1576.4" width="471.3" height="371.8" fill="none" stroke="#000" stroke-width="3.1" stroke-linejoin="round"/>
<text transform="translate(1468.9 2003.3) scale(0.981 1)" font-size="28.6" class="s" text-anchor="middle">Environment variable bio_12(mm)</text>
</g>
<g id="p7">
<line x1="120.73" y1="2033.2" x2="120.73" y2="2405.1" stroke="#bcbcbc" stroke-width="2.2"/>
<line x1="168" y1="2033.2" x2="168" y2="2405.1" stroke="#bcbcbc" stroke-width="2.2"/>
<line x1="215.27" y1="2033.2" x2="215.27" y2="2405.1" stroke="#bcbcbc" stroke-width="2.2"/>
<line x1="262.54" y1="2033.2" x2="262.54" y2="2405.1" stroke="#bcbcbc" stroke-width="2.2"/>
<line x1="309.81" y1="2033.2" x2="309.81" y2="2405.1" stroke="#bcbcbc" stroke-width="2.2"/>
<line x1="357.08" y1="2033.2" x2="357.08" y2="2405.1" stroke="#bcbcbc" stroke-width="2.2"/>
<line x1="404.35" y1="2033.2" x2="404.35" y2="2405.1" stroke="#bcbcbc" stroke-width="2.2"/>
<line x1="451.62" y1="2033.2" x2="451.62" y2="2405.1" stroke="#bcbcbc" stroke-width="2.2"/>
<line x1="498.89" y1="2033.2" x2="498.89" y2="2405.1" stroke="#bcbcbc" stroke-width="2.2"/>
<line x1="546.16" y1="2033.2" x2="546.16" y2="2405.1" stroke="#bcbcbc" stroke-width="2.2"/>
<line x1="115.8" y1="2391.7" x2="587.4" y2="2391.7" stroke="#bcbcbc" stroke-width="2.2"/>
<line x1="115.8" y1="2352.48" x2="587.4" y2="2352.48" stroke="#bcbcbc" stroke-width="2.2"/>
<line x1="115.8" y1="2313.26" x2="587.4" y2="2313.26" stroke="#bcbcbc" stroke-width="2.2"/>
<line x1="115.8" y1="2274.04" x2="587.4" y2="2274.04" stroke="#bcbcbc" stroke-width="2.2"/>
<line x1="115.8" y1="2234.82" x2="587.4" y2="2234.82" stroke="#bcbcbc" stroke-width="2.2"/>
<line x1="115.8" y1="2195.6" x2="587.4" y2="2195.6" stroke="#bcbcbc" stroke-width="2.2"/>
<line x1="115.8" y1="2156.38" x2="587.4" y2="2156.38" stroke="#bcbcbc" stroke-width="2.2"/>
<line x1="115.8" y1="2117.16" x2="587.4" y2="2117.16" stroke="#bcbcbc" stroke-width="2.2"/>
<line x1="115.8" y1="2077.94" x2="587.4" y2="2077.94" stroke="#bcbcbc" stroke-width="2.2"/>
<line x1="115.8" y1="2038.72" x2="587.4" y2="2038.72" stroke="#bcbcbc" stroke-width="2.2"/>
<path d="M132.68 2390.86 L138.15 2391.17 L146.04 2391.3 L155.15 2391.23 L162.44 2390.96 L166.69 2390.62 L170.34 2390.11 L173.38 2389.44 L175.2 2388.86 L176.41 2388.37 L177.63 2387.79 L178.84 2387.08 L180.06 2386.23 L181.27 2385.2 L182.49 2383.95 L183.1 2383.23 L184.31 2381.56 L184.92 2380.59 L186.13 2378.36 L186.74 2377.07 L187.95 2374.1 L189.17 2370.5 L190.38 2366.16 L191.6 2360.95 L192.81 2354.71 L194.03 2347.29 L194.64 2343.09 L195.85 2333.61 L197.07 2322.58 L198.89 2302.92 L200.71 2279.48 L202.53 2252.58 L204.35 2223.07 L208.61 2151.85 L209.82 2132.91 L211.04 2115.27 L212.86 2091.7 L214.07 2078.07 L214.68 2071.89 L215.9 2060.72 L216.5 2055.73 L217.72 2046.82 L220.12 2057.83 L221.93 2067.12 L223.73 2077.29 L226.14 2092.17 L228.54 2108.37 L230.95 2125.65 L240.57 2198.97 L242.97 2216.65 L245.38 2233.51 L248.39 2253.14 L250.79 2267.55 L253.2 2280.77 L254.4 2286.92 L256.2 2295.6 L257.41 2301.02 L259.21 2308.62 L261.01 2315.62 L262.82 2322.05 L264.62 2327.94 L266.43 2333.34 L268.23 2338.27 L270.03 2342.78 L271.84 2346.89 L274.24 2351.83 L276.05 2355.15 L278.45 2359.15 L280.86 2362.68 L283.26 2365.82 L285.67 2368.61 L288.07 2371.08 L290.48 2373.28 L292.88 2375.23 L295.29 2376.96 L297.69 2378.5 L300.1 2379.86 L303.11 2381.35 L306.11 2382.64 L309.72 2383.96 L313.33 2385.07 L316.94 2386 L320.55 2386.79 L324.75 2387.55 L328.96 2388.18 L333.77 2388.77 L338.59 2389.25 L344 2389.68 L355.42 2390.33 L369.25 2390.8 L386.09 2391.13 L407.74 2391.34 L445.62 2391.49 L497.34 2391.52 L540.63 2391.43 L570.7 2391.23" fill="none" stroke="#ff0000" stroke-width="5.3" stroke-linecap="round" stroke-linejoin="round"/>
<line x1="120.73" y1="2033.2" x2="120.73" y2="2037.45" stroke="#000" stroke-width="2.4"/>
<line x1="120.73" y1="2405.1" x2="120.73" y2="2400.85" stroke="#000" stroke-width="2.4"/>
<text transform="translate(125.13 2430.1) scale(0.97 1)" font-size="21.6" class="s" text-anchor="middle">−100</text>
<line x1="168" y1="2033.2" x2="168" y2="2037.45" stroke="#000" stroke-width="2.4"/>
<line x1="168" y1="2405.1" x2="168" y2="2400.85" stroke="#000" stroke-width="2.4"/>
<text transform="translate(167.98 2430.1) scale(0.97 1)" font-size="21.6" class="s" text-anchor="middle">0</text>
<line x1="215.27" y1="2033.2" x2="215.27" y2="2037.45" stroke="#000" stroke-width="2.4"/>
<line x1="215.27" y1="2405.1" x2="215.27" y2="2400.85" stroke="#000" stroke-width="2.4"/>
<text transform="translate(215.24 2430.1) scale(0.97 1)" font-size="21.6" class="s" text-anchor="middle">100</text>
<line x1="262.54" y1="2033.2" x2="262.54" y2="2037.45" stroke="#000" stroke-width="2.4"/>
<line x1="262.54" y1="2405.1" x2="262.54" y2="2400.85" stroke="#000" stroke-width="2.4"/>
<text transform="translate(262.49 2430.1) scale(0.97 1)" font-size="21.6" class="s" text-anchor="middle">200</text>
<line x1="309.81" y1="2033.2" x2="309.81" y2="2037.45" stroke="#000" stroke-width="2.4"/>
<line x1="309.81" y1="2405.1" x2="309.81" y2="2400.85" stroke="#000" stroke-width="2.4"/>
<text transform="translate(309.74 2430.1) scale(0.97 1)" font-size="21.6" class="s" text-anchor="middle">300</text>
<line x1="357.08" y1="2033.2" x2="357.08" y2="2037.45" stroke="#000" stroke-width="2.4"/>
<line x1="357.08" y1="2405.1" x2="357.08" y2="2400.85" stroke="#000" stroke-width="2.4"/>
<text transform="translate(357 2430.1) scale(0.97 1)" font-size="21.6" class="s" text-anchor="middle">400</text>
<line x1="404.35" y1="2033.2" x2="404.35" y2="2037.45" stroke="#000" stroke-width="2.4"/>
<line x1="404.35" y1="2405.1" x2="404.35" y2="2400.85" stroke="#000" stroke-width="2.4"/>
<text transform="translate(404.25 2430.1) scale(0.97 1)" font-size="21.6" class="s" text-anchor="middle">500</text>
<line x1="451.62" y1="2033.2" x2="451.62" y2="2037.45" stroke="#000" stroke-width="2.4"/>
<line x1="451.62" y1="2405.1" x2="451.62" y2="2400.85" stroke="#000" stroke-width="2.4"/>
<text transform="translate(451.5 2430.1) scale(0.97 1)" font-size="21.6" class="s" text-anchor="middle">600</text>
<line x1="498.89" y1="2033.2" x2="498.89" y2="2037.45" stroke="#000" stroke-width="2.4"/>
<line x1="498.89" y1="2405.1" x2="498.89" y2="2400.85" stroke="#000" stroke-width="2.4"/>
<text transform="translate(498.76 2430.1) scale(0.97 1)" font-size="21.6" class="s" text-anchor="middle">700</text>
<line x1="546.16" y1="2033.2" x2="546.16" y2="2037.45" stroke="#000" stroke-width="2.4"/>
<line x1="546.16" y1="2405.1" x2="546.16" y2="2400.85" stroke="#000" stroke-width="2.4"/>
<text transform="translate(546.01 2430.1) scale(0.97 1)" font-size="21.6" class="s" text-anchor="middle">800</text>
<line x1="115.8" y1="2391.7" x2="120.05" y2="2391.7" stroke="#000" stroke-width="2.4"/>
<line x1="587.4" y1="2391.7" x2="583.15" y2="2391.7" stroke="#000" stroke-width="2.4"/>
<text transform="translate(108.1 2399.1) scale(0.97 1)" font-size="21.6" class="s" text-anchor="end">0.0</text>
<line x1="115.8" y1="2352.48" x2="120.05" y2="2352.48" stroke="#000" stroke-width="2.4"/>
<line x1="587.4" y1="2352.48" x2="583.15" y2="2352.48" stroke="#000" stroke-width="2.4"/>
<text transform="translate(108.1 2359.69) scale(0.97 1)" font-size="21.6" class="s" text-anchor="end">0.1</text>
<line x1="115.8" y1="2313.26" x2="120.05" y2="2313.26" stroke="#000" stroke-width="2.4"/>
<line x1="587.4" y1="2313.26" x2="583.15" y2="2313.26" stroke="#000" stroke-width="2.4"/>
<text transform="translate(108.1 2320.28) scale(0.97 1)" font-size="21.6" class="s" text-anchor="end">0.2</text>
<line x1="115.8" y1="2274.04" x2="120.05" y2="2274.04" stroke="#000" stroke-width="2.4"/>
<line x1="587.4" y1="2274.04" x2="583.15" y2="2274.04" stroke="#000" stroke-width="2.4"/>
<text transform="translate(108.1 2280.87) scale(0.97 1)" font-size="21.6" class="s" text-anchor="end">0.3</text>
<line x1="115.8" y1="2234.82" x2="120.05" y2="2234.82" stroke="#000" stroke-width="2.4"/>
<line x1="587.4" y1="2234.82" x2="583.15" y2="2234.82" stroke="#000" stroke-width="2.4"/>
<text transform="translate(108.1 2241.46) scale(0.97 1)" font-size="21.6" class="s" text-anchor="end">0.4</text>
<line x1="115.8" y1="2195.6" x2="120.05" y2="2195.6" stroke="#000" stroke-width="2.4"/>
<line x1="587.4" y1="2195.6" x2="583.15" y2="2195.6" stroke="#000" stroke-width="2.4"/>
<text transform="translate(108.1 2202.06) scale(0.97 1)" font-size="21.6" class="s" text-anchor="end">0.5</text>
<line x1="115.8" y1="2156.38" x2="120.05" y2="2156.38" stroke="#000" stroke-width="2.4"/>
<line x1="587.4" y1="2156.38" x2="583.15" y2="2156.38" stroke="#000" stroke-width="2.4"/>
<text transform="translate(108.1 2162.65) scale(0.97 1)" font-size="21.6" class="s" text-anchor="end">0.6</text>
<line x1="115.8" y1="2117.16" x2="120.05" y2="2117.16" stroke="#000" stroke-width="2.4"/>
<line x1="587.4" y1="2117.16" x2="583.15" y2="2117.16" stroke="#000" stroke-width="2.4"/>
<text transform="translate(108.1 2123.24) scale(0.97 1)" font-size="21.6" class="s" text-anchor="end">0.7</text>
<line x1="115.8" y1="2077.94" x2="120.05" y2="2077.94" stroke="#000" stroke-width="2.4"/>
<line x1="587.4" y1="2077.94" x2="583.15" y2="2077.94" stroke="#000" stroke-width="2.4"/>
<text transform="translate(108.1 2083.83) scale(0.97 1)" font-size="21.6" class="s" text-anchor="end">0.8</text>
<line x1="115.8" y1="2038.72" x2="120.05" y2="2038.72" stroke="#000" stroke-width="2.4"/>
<line x1="587.4" y1="2038.72" x2="583.15" y2="2038.72" stroke="#000" stroke-width="2.4"/>
<text transform="translate(108.1 2044.42) scale(0.97 1)" font-size="21.6" class="s" text-anchor="end">0.9</text>
<rect x="115.8" y="2033.2" width="471.6" height="371.9" fill="none" stroke="#000" stroke-width="3.1" stroke-linejoin="round"/>
<text transform="translate(341 2463.8) scale(0.981 1)" font-size="28.6" class="s" text-anchor="middle">Environment variable bio_13(mm)</text>
</g>
<g id="p8">
<line x1="715.2" y1="2033.2" x2="715.2" y2="2405.1" stroke="#bcbcbc" stroke-width="2.2"/>
<line x1="771.67" y1="2033.2" x2="771.67" y2="2405.1" stroke="#bcbcbc" stroke-width="2.2"/>
<line x1="828.14" y1="2033.2" x2="828.14" y2="2405.1" stroke="#bcbcbc" stroke-width="2.2"/>
<line x1="884.6" y1="2033.2" x2="884.6" y2="2405.1" stroke="#bcbcbc" stroke-width="2.2"/>
<line x1="941.07" y1="2033.2" x2="941.07" y2="2405.1" stroke="#bcbcbc" stroke-width="2.2"/>
<line x1="997.54" y1="2033.2" x2="997.54" y2="2405.1" stroke="#bcbcbc" stroke-width="2.2"/>
<line x1="1054.01" y1="2033.2" x2="1054.01" y2="2405.1" stroke="#bcbcbc" stroke-width="2.2"/>
<line x1="1110.48" y1="2033.2" x2="1110.48" y2="2405.1" stroke="#bcbcbc" stroke-width="2.2"/>
<line x1="672.3" y1="2393.9" x2="1143.5" y2="2393.9" stroke="#bcbcbc" stroke-width="2.2"/>
<line x1="672.3" y1="2350.1" x2="1143.5" y2="2350.1" stroke="#bcbcbc" stroke-width="2.2"/>
<line x1="672.3" y1="2306.3" x2="1143.5" y2="2306.3" stroke="#bcbcbc" stroke-width="2.2"/>
<line x1="672.3" y1="2262.5" x2="1143.5" y2="2262.5" stroke="#bcbcbc" stroke-width="2.2"/>
<line x1="672.3" y1="2218.7" x2="1143.5" y2="2218.7" stroke="#bcbcbc" stroke-width="2.2"/>
<line x1="672.3" y1="2174.9" x2="1143.5" y2="2174.9" stroke="#bcbcbc" stroke-width="2.2"/>
<line x1="672.3" y1="2131.1" x2="1143.5" y2="2131.1" stroke="#bcbcbc" stroke-width="2.2"/>
<line x1="672.3" y1="2087.3" x2="1143.5" y2="2087.3" stroke="#bcbcbc" stroke-width="2.2"/>
<line x1="672.3" y1="2043.5" x2="1143.5" y2="2043.5" stroke="#bcbcbc" stroke-width="2.2"/>
<path d="M689.3 2391.2 L695.32 2391.22 L701.34 2391.12 L707.36 2390.91 L712.77 2390.62 L718.19 2390.22 L723.01 2389.77 L727.82 2389.2 L732.64 2388.5 L737.45 2387.67 L741.67 2386.8 L745.88 2385.81 L750.09 2384.68 L754.31 2383.42 L758.52 2382 L762.73 2380.42 L766.34 2378.91 L769.96 2377.24 L773.57 2375.39 L777.18 2373.33 L780.19 2371.45 L783.2 2369.38 L786.21 2367.12 L789.22 2364.64 L791.63 2362.47 L794.63 2359.52 L797.04 2356.94 L799.45 2354.15 L801.86 2351.13 L804.27 2347.85 L806.67 2344.3 L809.08 2340.44 L810.89 2337.34 L812.69 2334.05 L814.5 2330.55 L816.3 2326.85 L818.11 2322.93 L819.92 2318.77 L821.72 2314.38 L823.53 2309.73 L825.33 2304.83 L827.14 2299.66 L828.94 2294.22 L830.75 2288.5 L832.56 2282.5 L835.57 2271.85 L839.18 2258.02 L841.58 2248.17 L844.59 2235.19 L847.6 2221.5 L850.61 2207.19 L856.03 2180.2 L868.07 2118.26 L871.08 2103.27 L874.09 2088.79 L876.5 2077.66 L878.9 2067.01 L881.31 2056.89 L883.72 2047.33 L888.55 2051.06 L892.78 2054.54 L897.01 2058.23 L901.84 2062.7 L906.07 2066.81 L910.9 2071.75 L915.73 2076.92 L920.56 2082.32 L924.79 2087.21 L929.02 2092.25 L938.07 2103.44 L946.53 2114.26 L965.86 2139.4 L975.52 2151.64 L985.81 2159 L1009.4 2175.6 L1020.29 2183.43 L1026.95 2188.35 L1033 2192.93 L1039.05 2197.66 L1044.5 2202.04 L1050.55 2207.07 L1056.6 2212.29 L1062.65 2217.71 L1068.09 2222.76 L1073.54 2228 L1078.99 2233.42 L1084.43 2239.03 L1090.48 2245.47 L1126.83 2245.47" fill="none" stroke="#ff0000" stroke-width="5.3" stroke-linecap="round" stroke-linejoin="round"/>
<line x1="715.2" y1="2033.2" x2="715.2" y2="2037.45" stroke="#000" stroke-width="2.4"/>
<line x1="715.2" y1="2405.1" x2="715.2" y2="2400.85" stroke="#000" stroke-width="2.4"/>
<text transform="translate(713.9 2430.1) scale(0.97 1)" font-size="21.6" class="s" text-anchor="middle">20</text>
<line x1="771.67" y1="2033.2" x2="771.67" y2="2037.45" stroke="#000" stroke-width="2.4"/>
<line x1="771.67" y1="2405.1" x2="771.67" y2="2400.85" stroke="#000" stroke-width="2.4"/>
<text transform="translate(770.74 2430.1) scale(0.97 1)" font-size="21.6" class="s" text-anchor="middle">40</text>
<line x1="828.14" y1="2033.2" x2="828.14" y2="2037.45" stroke="#000" stroke-width="2.4"/>
<line x1="828.14" y1="2405.1" x2="828.14" y2="2400.85" stroke="#000" stroke-width="2.4"/>
<text transform="translate(827.58 2430.1) scale(0.97 1)" font-size="21.6" class="s" text-anchor="middle">60</text>
<line x1="884.6" y1="2033.2" x2="884.6" y2="2037.45" stroke="#000" stroke-width="2.4"/>
<line x1="884.6" y1="2405.1" x2="884.6" y2="2400.85" stroke="#000" stroke-width="2.4"/>
<text transform="translate(884.42 2430.1) scale(0.97 1)" font-size="21.6" class="s" text-anchor="middle">80</text>
<line x1="941.07" y1="2033.2" x2="941.07" y2="2037.45" stroke="#000" stroke-width="2.4"/>
<line x1="941.07" y1="2405.1" x2="941.07" y2="2400.85" stroke="#000" stroke-width="2.4"/>
<text transform="translate(941.26 2430.1) scale(0.97 1)" font-size="21.6" class="s" text-anchor="middle">100</text>
<line x1="997.54" y1="2033.2" x2="997.54" y2="2037.45" stroke="#000" stroke-width="2.4"/>
<line x1="997.54" y1="2405.1" x2="997.54" y2="2400.85" stroke="#000" stroke-width="2.4"/>
<text transform="translate(998.1 2430.1) scale(0.97 1)" font-size="21.6" class="s" text-anchor="middle">120</text>
<line x1="1054.01" y1="2033.2" x2="1054.01" y2="2037.45" stroke="#000" stroke-width="2.4"/>
<line x1="1054.01" y1="2405.1" x2="1054.01" y2="2400.85" stroke="#000" stroke-width="2.4"/>
<text transform="translate(1054.94 2430.1) scale(0.97 1)" font-size="21.6" class="s" text-anchor="middle">140</text>
<line x1="1110.48" y1="2033.2" x2="1110.48" y2="2037.45" stroke="#000" stroke-width="2.4"/>
<line x1="1110.48" y1="2405.1" x2="1110.48" y2="2400.85" stroke="#000" stroke-width="2.4"/>
<text transform="translate(1111.78 2430.1) scale(0.97 1)" font-size="21.6" class="s" text-anchor="middle">160</text>
<line x1="672.3" y1="2393.9" x2="676.55" y2="2393.9" stroke="#000" stroke-width="2.4"/>
<line x1="1143.5" y1="2393.9" x2="1139.25" y2="2393.9" stroke="#000" stroke-width="2.4"/>
<text transform="translate(664.6 2401.5) scale(0.97 1)" font-size="21.6" class="s" text-anchor="end">0.0</text>
<line x1="672.3" y1="2350.1" x2="676.55" y2="2350.1" stroke="#000" stroke-width="2.4"/>
<line x1="1143.5" y1="2350.1" x2="1139.25" y2="2350.1" stroke="#000" stroke-width="2.4"/>
<text transform="translate(664.6 2357.61) scale(0.97 1)" font-size="21.6" class="s" text-anchor="end">0.1</text>
<line x1="672.3" y1="2306.3" x2="676.55" y2="2306.3" stroke="#000" stroke-width="2.4"/>
<line x1="1143.5" y1="2306.3" x2="1139.25" y2="2306.3" stroke="#000" stroke-width="2.4"/>
<text transform="translate(664.6 2313.72) scale(0.97 1)" font-size="21.6" class="s" text-anchor="end">0.2</text>
<line x1="672.3" y1="2262.5" x2="676.55" y2="2262.5" stroke="#000" stroke-width="2.4"/>
<line x1="1143.5" y1="2262.5" x2="1139.25" y2="2262.5" stroke="#000" stroke-width="2.4"/>
<text transform="translate(664.6 2269.84) scale(0.97 1)" font-size="21.6" class="s" text-anchor="end">0.3</text>
<line x1="672.3" y1="2218.7" x2="676.55" y2="2218.7" stroke="#000" stroke-width="2.4"/>
<line x1="1143.5" y1="2218.7" x2="1139.25" y2="2218.7" stroke="#000" stroke-width="2.4"/>
<text transform="translate(664.6 2225.95) scale(0.97 1)" font-size="21.6" class="s" text-anchor="end">0.4</text>
<line x1="672.3" y1="2174.9" x2="676.55" y2="2174.9" stroke="#000" stroke-width="2.4"/>
<line x1="1143.5" y1="2174.9" x2="1139.25" y2="2174.9" stroke="#000" stroke-width="2.4"/>
<text transform="translate(664.6 2182.06) scale(0.97 1)" font-size="21.6" class="s" text-anchor="end">0.5</text>
<line x1="672.3" y1="2131.1" x2="676.55" y2="2131.1" stroke="#000" stroke-width="2.4"/>
<line x1="1143.5" y1="2131.1" x2="1139.25" y2="2131.1" stroke="#000" stroke-width="2.4"/>
<text transform="translate(664.6 2138.17) scale(0.97 1)" font-size="21.6" class="s" text-anchor="end">0.6</text>
<line x1="672.3" y1="2087.3" x2="676.55" y2="2087.3" stroke="#000" stroke-width="2.4"/>
<line x1="1143.5" y1="2087.3" x2="1139.25" y2="2087.3" stroke="#000" stroke-width="2.4"/>
<text transform="translate(664.6 2094.29) scale(0.97 1)" font-size="21.6" class="s" text-anchor="end">0.7</text>
<line x1="672.3" y1="2043.5" x2="676.55" y2="2043.5" stroke="#000" stroke-width="2.4"/>
<line x1="1143.5" y1="2043.5" x2="1139.25" y2="2043.5" stroke="#000" stroke-width="2.4"/>
<text transform="translate(664.6 2050.4) scale(0.97 1)" font-size="21.6" class="s" text-anchor="end">0.8</text>
<rect x="672.3" y="2033.2" width="471.2" height="371.9" fill="none" stroke="#000" stroke-width="3.1" stroke-linejoin="round"/>
<text transform="translate(907.4 2463.8) scale(0.981 1)" font-size="28.6" class="s" text-anchor="middle">Environment variable bio_15</text>
</g>
<g id="p9">
<line x1="1258.18" y1="2033.2" x2="1258.18" y2="2405.1" stroke="#bcbcbc" stroke-width="2.2"/>
<line x1="1309.24" y1="2033.2" x2="1309.24" y2="2405.1" stroke="#bcbcbc" stroke-width="2.2"/>
<line x1="1360.3" y1="2033.2" x2="1360.3" y2="2405.1" stroke="#bcbcbc" stroke-width="2.2"/>
<line x1="1411.36" y1="2033.2" x2="1411.36" y2="2405.1" stroke="#bcbcbc" stroke-width="2.2"/>
<line x1="1462.42" y1="2033.2" x2="1462.42" y2="2405.1" stroke="#bcbcbc" stroke-width="2.2"/>
<line x1="1513.48" y1="2033.2" x2="1513.48" y2="2405.1" stroke="#bcbcbc" stroke-width="2.2"/>
<line x1="1564.54" y1="2033.2" x2="1564.54" y2="2405.1" stroke="#bcbcbc" stroke-width="2.2"/>
<line x1="1615.6" y1="2033.2" x2="1615.6" y2="2405.1" stroke="#bcbcbc" stroke-width="2.2"/>
<line x1="1666.66" y1="2033.2" x2="1666.66" y2="2405.1" stroke="#bcbcbc" stroke-width="2.2"/>
<line x1="1228.9" y1="2391.7" x2="1700.2" y2="2391.7" stroke="#bcbcbc" stroke-width="2.2"/>
<line x1="1228.9" y1="2352.18" x2="1700.2" y2="2352.18" stroke="#bcbcbc" stroke-width="2.2"/>
<line x1="1228.9" y1="2312.66" x2="1700.2" y2="2312.66" stroke="#bcbcbc" stroke-width="2.2"/>
<line x1="1228.9" y1="2273.14" x2="1700.2" y2="2273.14" stroke="#bcbcbc" stroke-width="2.2"/>
<line x1="1228.9" y1="2233.62" x2="1700.2" y2="2233.62" stroke="#bcbcbc" stroke-width="2.2"/>
<line x1="1228.9" y1="2194.1" x2="1700.2" y2="2194.1" stroke="#bcbcbc" stroke-width="2.2"/>
<line x1="1228.9" y1="2154.58" x2="1700.2" y2="2154.58" stroke="#bcbcbc" stroke-width="2.2"/>
<line x1="1228.9" y1="2115.06" x2="1700.2" y2="2115.06" stroke="#bcbcbc" stroke-width="2.2"/>
<line x1="1228.9" y1="2075.54" x2="1700.2" y2="2075.54" stroke="#bcbcbc" stroke-width="2.2"/>
<line x1="1228.9" y1="2036.02" x2="1700.2" y2="2036.02" stroke="#bcbcbc" stroke-width="2.2"/>
<path d="M1245.4 2391.23 L1267.69 2390.92 L1286.37 2390.51 L1302.03 2389.96 L1315.89 2389.24 L1321.91 2388.83 L1327.93 2388.33 L1333.36 2387.79 L1338.18 2387.23 L1343 2386.58 L1347.21 2385.92 L1351.43 2385.15 L1355.65 2384.27 L1359.86 2383.25 L1363.48 2382.25 L1367.09 2381.11 L1370.11 2380.04 L1373.72 2378.59 L1376.73 2377.23 L1379.74 2375.7 L1382.76 2374 L1385.77 2372.09 L1388.18 2370.39 L1391.19 2368.05 L1393.6 2365.97 L1396.01 2363.69 L1398.42 2361.19 L1400.83 2358.46 L1402.64 2356.23 L1405.65 2352.17 L1408.06 2348.58 L1411.07 2343.61 L1413.48 2339.21 L1416.49 2333.15 L1418.9 2327.82 L1421.31 2322.02 L1423.72 2315.73 L1426.13 2308.93 L1427.94 2303.47 L1430.35 2295.71 L1432.16 2289.53 L1433.96 2283.02 L1436.37 2273.85 L1438.18 2266.6 L1440.59 2256.46 L1443.02 2251.27 L1446.05 2244.45 L1449.07 2237.27 L1451.5 2231.26 L1453.92 2225.01 L1456.95 2216.86 L1459.38 2210.09 L1462.41 2201.31 L1466.65 2188.49 L1470.89 2175.12 L1476.34 2157.31 L1486.64 2122.89 L1490.88 2108.93 L1495.73 2093.5 L1499.97 2080.68 L1502.4 2073.71 L1504.82 2067.03 L1507.24 2060.67 L1509.06 2056.12 L1509.72 2055.44 L1510.37 2054.51 L1512.99 2049.9 L1513.65 2048.89 L1514.3 2048.06 L1514.96 2047.48 L1515.61 2047.2 L1516.27 2047.29 L1516.92 2047.81 L1517.58 2048.85 L1518.23 2050.49 L1518.89 2052.87 L1521.53 2065.42 L1522.85 2072.32 L1524.83 2083.81 L1526.81 2096.7 L1528.62 2113.68 L1530.44 2131.9 L1538.29 2216.81 L1541.3 2247.51 L1543.12 2264.41 L1544.93 2279.96 L1546.74 2294.06 L1548.55 2306.71 L1550.36 2317.94 L1552.17 2327.83 L1553.98 2336.46 L1555.8 2343.97 L1557.61 2350.47 L1559.42 2356.07 L1561.23 2360.9 L1562.44 2363.73 L1563.64 2366.28 L1564.85 2368.59 L1566.06 2370.67 L1567.27 2372.56 L1569.08 2375.04 L1570.29 2376.5 L1572.1 2378.43 L1573.31 2379.56 L1575.12 2381.06 L1576.93 2382.35 L1578.74 2383.46 L1580.55 2384.43 L1582.36 2385.26 L1584.17 2385.98 L1586.59 2386.8 L1589 2387.48 L1592.02 2388.18 L1594.44 2388.64 L1597.46 2389.11 L1600.48 2389.49 L1604.1 2389.86 L1611.34 2390.37 L1620.4 2390.77 L1631.87 2391.04 L1646.36 2391.21 L1664.48 2391.28 L1683.8 2391.23" fill="none" stroke="#ff0000" stroke-width="5.3" stroke-linecap="round" stroke-linejoin="round"/>
<line x1="1258.18" y1="2033.2" x2="1258.18" y2="2037.45" stroke="#000" stroke-width="2.4"/>
<line x1="1258.18" y1="2405.1" x2="1258.18" y2="2400.85" stroke="#000" stroke-width="2.4"/>
<text transform="translate(1258.58 2430.1) scale(0.97 1)" font-size="21.6" class="s" text-anchor="middle">100</text>
<line x1="1309.24" y1="2033.2" x2="1309.24" y2="2037.45" stroke="#000" stroke-width="2.4"/>
<line x1="1309.24" y1="2405.1" x2="1309.24" y2="2400.85" stroke="#000" stroke-width="2.4"/>
<text transform="translate(1309.63 2430.1) scale(0.97 1)" font-size="21.6" class="s" text-anchor="middle">120</text>
<line x1="1360.3" y1="2033.2" x2="1360.3" y2="2037.45" stroke="#000" stroke-width="2.4"/>
<line x1="1360.3" y1="2405.1" x2="1360.3" y2="2400.85" stroke="#000" stroke-width="2.4"/>
<text transform="translate(1360.67 2430.1) scale(0.97 1)" font-size="21.6" class="s" text-anchor="middle">140</text>
<line x1="1411.36" y1="2033.2" x2="1411.36" y2="2037.45" stroke="#000" stroke-width="2.4"/>
<line x1="1411.36" y1="2405.1" x2="1411.36" y2="2400.85" stroke="#000" stroke-width="2.4"/>
<text transform="translate(1411.72 2430.1) scale(0.97 1)" font-size="21.6" class="s" text-anchor="middle">160</text>
<line x1="1462.42" y1="2033.2" x2="1462.42" y2="2037.45" stroke="#000" stroke-width="2.4"/>
<line x1="1462.42" y1="2405.1" x2="1462.42" y2="2400.85" stroke="#000" stroke-width="2.4"/>
<text transform="translate(1462.77 2430.1) scale(0.97 1)" font-size="21.6" class="s" text-anchor="middle">180</text>
<line x1="1513.48" y1="2033.2" x2="1513.48" y2="2037.45" stroke="#000" stroke-width="2.4"/>
<line x1="1513.48" y1="2405.1" x2="1513.48" y2="2400.85" stroke="#000" stroke-width="2.4"/>
<text transform="translate(1513.82 2430.1) scale(0.97 1)" font-size="21.6" class="s" text-anchor="middle">200</text>
<line x1="1564.54" y1="2033.2" x2="1564.54" y2="2037.45" stroke="#000" stroke-width="2.4"/>
<line x1="1564.54" y1="2405.1" x2="1564.54" y2="2400.85" stroke="#000" stroke-width="2.4"/>
<text transform="translate(1564.87 2430.1) scale(0.97 1)" font-size="21.6" class="s" text-anchor="middle">220</text>
<line x1="1615.6" y1="2033.2" x2="1615.6" y2="2037.45" stroke="#000" stroke-width="2.4"/>
<line x1="1615.6" y1="2405.1" x2="1615.6" y2="2400.85" stroke="#000" stroke-width="2.4"/>
<text transform="translate(1615.91 2430.1) scale(0.97 1)" font-size="21.6" class="s" text-anchor="middle">240</text>
<line x1="1666.66" y1="2033.2" x2="1666.66" y2="2037.45" stroke="#000" stroke-width="2.4"/>
<line x1="1666.66" y1="2405.1" x2="1666.66" y2="2400.85" stroke="#000" stroke-width="2.4"/>
<text transform="translate(1666.96 2430.1) scale(0.97 1)" font-size="21.6" class="s" text-anchor="middle">260</text>
<line x1="1228.9" y1="2391.7" x2="1233.15" y2="2391.7" stroke="#000" stroke-width="2.4"/>
<line x1="1700.2" y1="2391.7" x2="1695.95" y2="2391.7" stroke="#000" stroke-width="2.4"/>
<text transform="translate(1221.2 2399.1) scale(0.97 1)" font-size="21.6" class="s" text-anchor="end">0.0</text>
<line x1="1228.9" y1="2352.18" x2="1233.15" y2="2352.18" stroke="#000" stroke-width="2.4"/>
<line x1="1700.2" y1="2352.18" x2="1695.95" y2="2352.18" stroke="#000" stroke-width="2.4"/>
<text transform="translate(1221.2 2359.52) scale(0.97 1)" font-size="21.6" class="s" text-anchor="end">0.1</text>
<line x1="1228.9" y1="2312.66" x2="1233.15" y2="2312.66" stroke="#000" stroke-width="2.4"/>
<line x1="1700.2" y1="2312.66" x2="1695.95" y2="2312.66" stroke="#000" stroke-width="2.4"/>
<text transform="translate(1221.2 2319.95) scale(0.97 1)" font-size="21.6" class="s" text-anchor="end">0.2</text>
<line x1="1228.9" y1="2273.14" x2="1233.15" y2="2273.14" stroke="#000" stroke-width="2.4"/>
<line x1="1700.2" y1="2273.14" x2="1695.95" y2="2273.14" stroke="#000" stroke-width="2.4"/>
<text transform="translate(1221.2 2280.37) scale(0.97 1)" font-size="21.6" class="s" text-anchor="end">0.3</text>
<line x1="1228.9" y1="2233.62" x2="1233.15" y2="2233.62" stroke="#000" stroke-width="2.4"/>
<line x1="1700.2" y1="2233.62" x2="1695.95" y2="2233.62" stroke="#000" stroke-width="2.4"/>
<text transform="translate(1221.2 2240.8) scale(0.97 1)" font-size="21.6" class="s" text-anchor="end">0.4</text>
<line x1="1228.9" y1="2194.1" x2="1233.15" y2="2194.1" stroke="#000" stroke-width="2.4"/>
<line x1="1700.2" y1="2194.1" x2="1695.95" y2="2194.1" stroke="#000" stroke-width="2.4"/>
<text transform="translate(1221.2 2201.22) scale(0.97 1)" font-size="21.6" class="s" text-anchor="end">0.5</text>
<line x1="1228.9" y1="2154.58" x2="1233.15" y2="2154.58" stroke="#000" stroke-width="2.4"/>
<line x1="1700.2" y1="2154.58" x2="1695.95" y2="2154.58" stroke="#000" stroke-width="2.4"/>
<text transform="translate(1221.2 2161.65) scale(0.97 1)" font-size="21.6" class="s" text-anchor="end">0.6</text>
<line x1="1228.9" y1="2115.06" x2="1233.15" y2="2115.06" stroke="#000" stroke-width="2.4"/>
<line x1="1700.2" y1="2115.06" x2="1695.95" y2="2115.06" stroke="#000" stroke-width="2.4"/>
<text transform="translate(1221.2 2122.07) scale(0.97 1)" font-size="21.6" class="s" text-anchor="end">0.7</text>
<line x1="1228.9" y1="2075.54" x2="1233.15" y2="2075.54" stroke="#000" stroke-width="2.4"/>
<line x1="1700.2" y1="2075.54" x2="1695.95" y2="2075.54" stroke="#000" stroke-width="2.4"/>
<text transform="translate(1221.2 2082.5) scale(0.97 1)" font-size="21.6" class="s" text-anchor="end">0.8</text>
<line x1="1228.9" y1="2036.02" x2="1233.15" y2="2036.02" stroke="#000" stroke-width="2.4"/>
<line x1="1700.2" y1="2036.02" x2="1695.95" y2="2036.02" stroke="#000" stroke-width="2.4"/>
<text transform="translate(1221.2 2042.92) scale(0.97 1)" font-size="21.6" class="s" text-anchor="end">0.9</text>
<rect x="1228.9" y="2033.2" width="471.3" height="371.9" fill="none" stroke="#000" stroke-width="3.1" stroke-linejoin="round"/>
<text transform="translate(1473.4 2463.8) scale(0.981 1)" font-size="28.6" class="s" text-anchor="middle">Environment variable bio_26(W/m<tspan font-size="16.5" dy="-10">2</tspan><tspan dy="10">)</tspan></text>
</g>
</svg>
</body>
</html>
